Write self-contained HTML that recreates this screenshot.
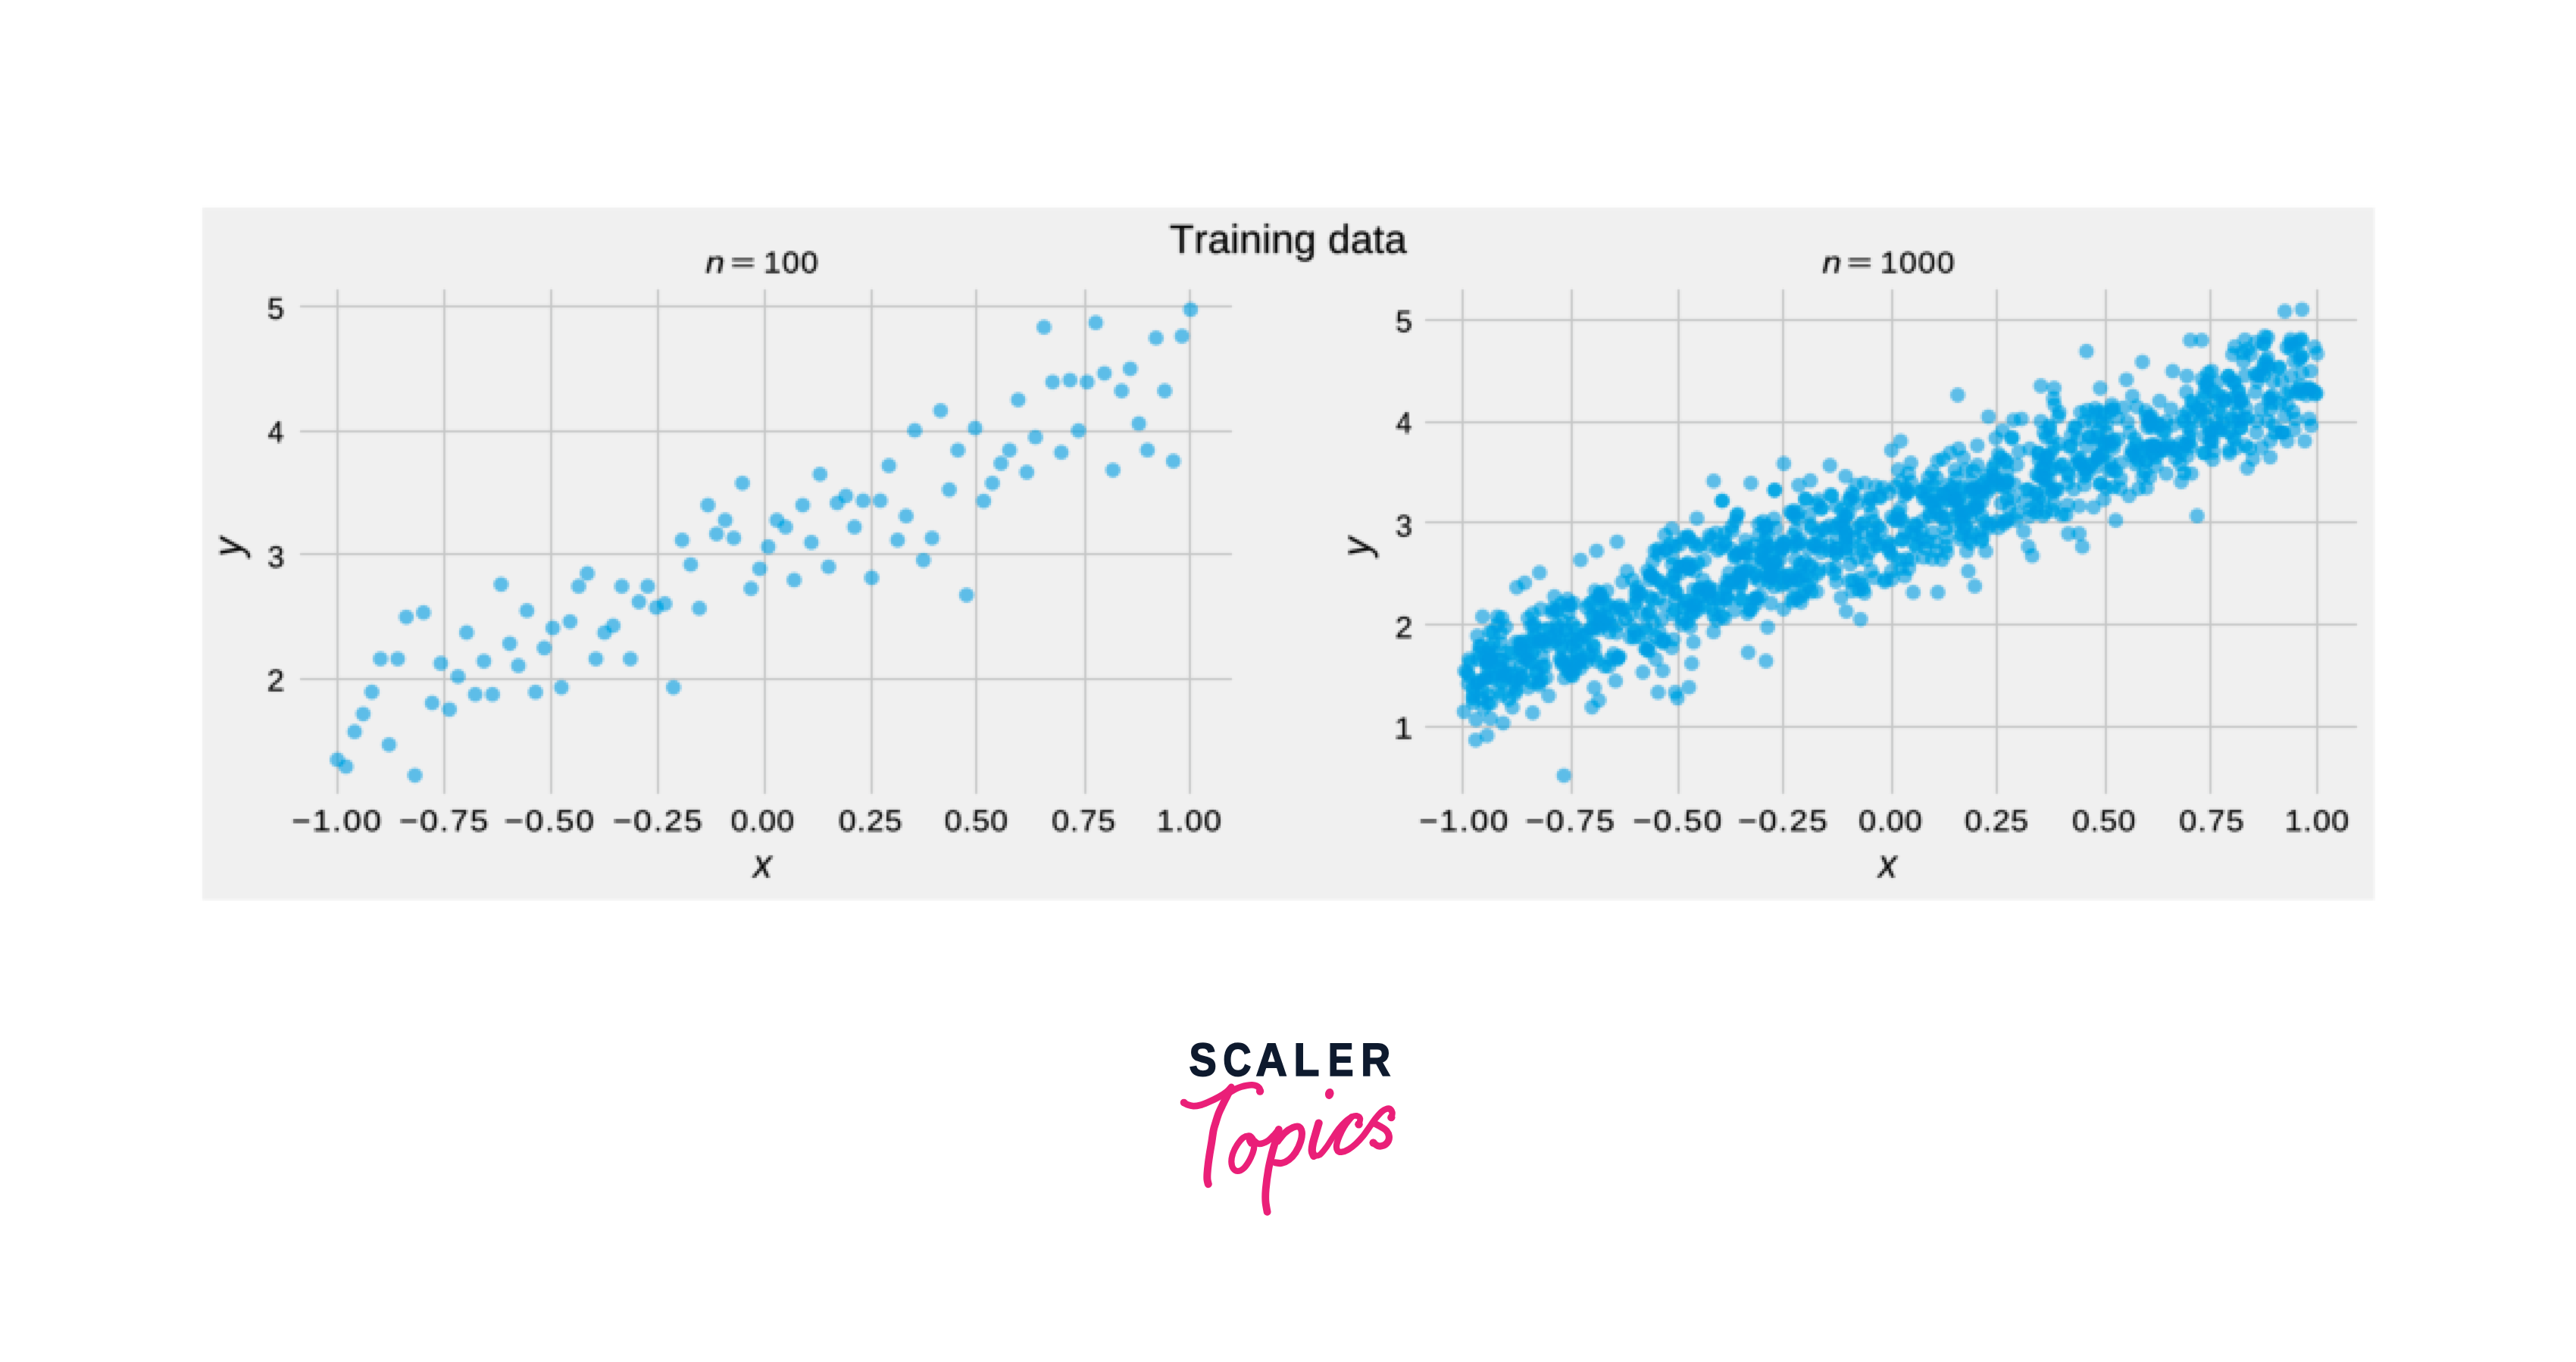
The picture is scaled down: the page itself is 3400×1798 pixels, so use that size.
<!DOCTYPE html><html><head><meta charset="utf-8"><title>Training data</title><style>html,body{margin:0;padding:0;background:#fff}body{width:3400px;height:1798px;position:relative;overflow:hidden;font-family:"Liberation Sans",sans-serif}svg text{font-kerning:none;text-rendering:geometricPrecision}</style></head><body><svg width="3400" height="1798" viewBox="0 0 3400 1798" style="position:absolute;left:0;top:0;display:block">
<defs><filter id="plot" filterUnits="userSpaceOnUse" x="264" y="271" width="2874" height="921" color-interpolation-filters="sRGB"><feComponentTransfer><feFuncR type="table" tableValues="0.0000 0.0078 0.0235 0.0549 0.1255 0.2275 0.3373 0.4118 0.4706 0.5294 0.5882 0.6471 0.7059 0.7647 0.8235 0.8824 0.9412 1.0000"/></feComponentTransfer></filter><filter id="lowres" filterUnits="userSpaceOnUse" x="264" y="271" width="2874" height="921" color-interpolation-filters="sRGB"><feGaussianBlur in="SourceGraphic" stdDeviation="0.9" result="avg"/><feFlood x="265" y="272" width="1" height="1" flood-color="#000"/><feComposite x="264" y="271" width="3" height="3"/><feTile result="grid"/><feComposite in="avg" in2="grid" operator="in"/><feMorphology operator="dilate" radius="1"/><feConvolveMatrix order="3" kernelMatrix="1 6 1 6 36 6 1 6 1" divisor="64" edgeMode="duplicate"/></filter></defs>
<rect x="0" y="0" width="3400" height="1798" fill="#ffffff"/>
<g id="chart" filter="url(#lowres)"><title>Training data scatter plots of y versus x for n = 100 and n = 1000</title>
<g id="plot" filter="url(#plot)">
<rect x="267" y="274" width="2866.8" height="914.0" fill="#f0f0f0"/>
<g stroke="#c6c6c6" stroke-width="3" fill="none"><line x1="445.5" y1="382" x2="445.5" y2="1048"/><line x1="586.5" y1="382" x2="586.5" y2="1048"/><line x1="727.5" y1="382" x2="727.5" y2="1048"/><line x1="868.5" y1="382" x2="868.5" y2="1048"/><line x1="1009.5" y1="382" x2="1009.5" y2="1048"/><line x1="1150.5" y1="382" x2="1150.5" y2="1048"/><line x1="1288.5" y1="382" x2="1288.5" y2="1048"/><line x1="1432.5" y1="382" x2="1432.5" y2="1048"/><line x1="1570.5" y1="382" x2="1570.5" y2="1048"/><line x1="396" y1="404.5" x2="1626" y2="404.5"/><line x1="396" y1="569.5" x2="1626" y2="569.5"/><line x1="396" y1="731.5" x2="1626" y2="731.5"/><line x1="396" y1="896.5" x2="1626" y2="896.5"/></g>
<g stroke="#c6c6c6" stroke-width="3" fill="none"><line x1="1930.5" y1="382" x2="1930.5" y2="1048"/><line x1="2074.5" y1="382" x2="2074.5" y2="1048"/><line x1="2215.5" y1="382" x2="2215.5" y2="1048"/><line x1="2353.5" y1="382" x2="2353.5" y2="1048"/><line x1="2497.5" y1="382" x2="2497.5" y2="1048"/><line x1="2635.5" y1="382" x2="2635.5" y2="1048"/><line x1="2779.5" y1="382" x2="2779.5" y2="1048"/><line x1="2917.5" y1="382" x2="2917.5" y2="1048"/><line x1="3058.5" y1="382" x2="3058.5" y2="1048"/><line x1="1881" y1="422.5" x2="3111" y2="422.5"/><line x1="1881" y1="557.5" x2="3111" y2="557.5"/><line x1="1881" y1="689.5" x2="3111" y2="689.5"/><line x1="1881" y1="824.5" x2="3111" y2="824.5"/><line x1="1881" y1="959.5" x2="3111" y2="959.5"/></g>
<g fill="#009be2" fill-opacity="0.600">
<circle cx="445.3" cy="1002.9" r="9.9"/>
<circle cx="456.7" cy="1011.9" r="9.9"/>
<circle cx="468.1" cy="965.9" r="9.9"/>
<circle cx="479.4" cy="942.6" r="9.9"/>
<circle cx="490.8" cy="913.5" r="9.9"/>
<circle cx="502.2" cy="869.8" r="9.9"/>
<circle cx="513.5" cy="983.1" r="9.9"/>
<circle cx="524.9" cy="869.8" r="9.9"/>
<circle cx="536.3" cy="814.6" r="9.9"/>
<circle cx="547.7" cy="1023.6" r="9.9"/>
<circle cx="559.0" cy="808.7" r="9.9"/>
<circle cx="570.4" cy="927.9" r="9.9"/>
<circle cx="581.8" cy="875.7" r="9.9"/>
<circle cx="593.2" cy="936.6" r="9.9"/>
<circle cx="604.5" cy="893.1" r="9.9"/>
<circle cx="615.9" cy="835.0" r="9.9"/>
<circle cx="627.3" cy="916.7" r="9.9"/>
<circle cx="638.7" cy="872.8" r="9.9"/>
<circle cx="650.0" cy="916.7" r="9.9"/>
<circle cx="661.4" cy="771.4" r="9.9"/>
<circle cx="672.8" cy="849.6" r="9.9"/>
<circle cx="684.2" cy="878.7" r="9.9"/>
<circle cx="695.5" cy="806.2" r="9.9"/>
<circle cx="706.9" cy="913.7" r="9.9"/>
<circle cx="718.3" cy="855.4" r="9.9"/>
<circle cx="729.7" cy="829.0" r="9.9"/>
<circle cx="741.0" cy="907.5" r="9.9"/>
<circle cx="752.4" cy="820.6" r="9.9"/>
<circle cx="763.8" cy="773.9" r="9.9"/>
<circle cx="775.2" cy="757.0" r="9.9"/>
<circle cx="786.5" cy="869.8" r="9.9"/>
<circle cx="797.9" cy="835.2" r="9.9"/>
<circle cx="809.3" cy="826.0" r="9.9"/>
<circle cx="820.7" cy="773.9" r="9.9"/>
<circle cx="832.0" cy="869.8" r="9.9"/>
<circle cx="843.4" cy="794.5" r="9.9"/>
<circle cx="854.8" cy="773.9" r="9.9"/>
<circle cx="866.2" cy="802.0" r="9.9"/>
<circle cx="877.5" cy="797.0" r="9.9"/>
<circle cx="888.9" cy="907.5" r="9.9"/>
<circle cx="900.3" cy="713.0" r="9.9"/>
<circle cx="911.7" cy="745.3" r="9.9"/>
<circle cx="923.0" cy="803.0" r="9.9"/>
<circle cx="934.4" cy="666.8" r="9.9"/>
<circle cx="945.8" cy="704.8" r="9.9"/>
<circle cx="957.2" cy="686.7" r="9.9"/>
<circle cx="968.5" cy="710.3" r="9.9"/>
<circle cx="979.9" cy="637.8" r="9.9"/>
<circle cx="991.3" cy="776.9" r="9.9"/>
<circle cx="1002.7" cy="750.8" r="9.9"/>
<circle cx="1014.0" cy="721.7" r="9.9"/>
<circle cx="1025.4" cy="686.7" r="9.9"/>
<circle cx="1036.8" cy="695.7" r="9.9"/>
<circle cx="1048.2" cy="765.7" r="9.9"/>
<circle cx="1059.5" cy="666.8" r="9.9"/>
<circle cx="1070.9" cy="716.0" r="9.9"/>
<circle cx="1082.3" cy="626.1" r="9.9"/>
<circle cx="1093.7" cy="748.3" r="9.9"/>
<circle cx="1105.0" cy="663.9" r="9.9"/>
<circle cx="1116.4" cy="654.7" r="9.9"/>
<circle cx="1127.8" cy="695.7" r="9.9"/>
<circle cx="1139.2" cy="660.9" r="9.9"/>
<circle cx="1150.5" cy="762.7" r="9.9"/>
<circle cx="1161.9" cy="660.9" r="9.9"/>
<circle cx="1173.3" cy="614.7" r="9.9"/>
<circle cx="1184.7" cy="713.0" r="9.9"/>
<circle cx="1196.0" cy="681.2" r="9.9"/>
<circle cx="1207.4" cy="568.2" r="9.9"/>
<circle cx="1218.8" cy="739.6" r="9.9"/>
<circle cx="1230.2" cy="710.3" r="9.9"/>
<circle cx="1241.5" cy="542.1" r="9.9"/>
<circle cx="1252.9" cy="646.5" r="9.9"/>
<circle cx="1264.3" cy="594.3" r="9.9"/>
<circle cx="1275.7" cy="785.6" r="9.9"/>
<circle cx="1287.0" cy="565.2" r="9.9"/>
<circle cx="1298.4" cy="661.4" r="9.9"/>
<circle cx="1309.8" cy="637.8" r="9.9"/>
<circle cx="1321.2" cy="611.7" r="9.9"/>
<circle cx="1332.5" cy="594.3" r="9.9"/>
<circle cx="1343.9" cy="527.8" r="9.9"/>
<circle cx="1355.3" cy="623.4" r="9.9"/>
<circle cx="1366.7" cy="577.2" r="9.9"/>
<circle cx="1378.0" cy="431.9" r="9.9"/>
<circle cx="1389.4" cy="504.3" r="9.9"/>
<circle cx="1400.8" cy="597.2" r="9.9"/>
<circle cx="1412.2" cy="501.8" r="9.9"/>
<circle cx="1423.5" cy="568.5" r="9.9"/>
<circle cx="1434.9" cy="504.3" r="9.9"/>
<circle cx="1446.3" cy="425.9" r="9.9"/>
<circle cx="1457.7" cy="492.8" r="9.9"/>
<circle cx="1469.0" cy="620.6" r="9.9"/>
<circle cx="1480.4" cy="516.0" r="9.9"/>
<circle cx="1491.8" cy="486.8" r="9.9"/>
<circle cx="1503.2" cy="559.2" r="9.9"/>
<circle cx="1514.5" cy="594.2" r="9.9"/>
<circle cx="1525.9" cy="446.2" r="9.9"/>
<circle cx="1537.3" cy="516.0" r="9.9"/>
<circle cx="1548.7" cy="608.7" r="9.9"/>
<circle cx="1560.0" cy="443.7" r="9.9"/>
<circle cx="1571.4" cy="408.7" r="9.9"/>
</g>
<g fill="#009be2" fill-opacity="0.600">
<circle cx="1932.4" cy="939.4" r="9.9"/>
<circle cx="1933.4" cy="885.8" r="9.9"/>
<circle cx="1936.9" cy="887.9" r="9.9"/>
<circle cx="1937.9" cy="902.6" r="9.9"/>
<circle cx="1938.5" cy="891.5" r="9.9"/>
<circle cx="1938.8" cy="870.2" r="9.9"/>
<circle cx="1940.4" cy="874.8" r="9.9"/>
<circle cx="1943.8" cy="922.1" r="9.9"/>
<circle cx="1943.9" cy="908.8" r="9.9"/>
<circle cx="1944.2" cy="917.8" r="9.9"/>
<circle cx="1944.7" cy="927.4" r="9.9"/>
<circle cx="1948.3" cy="950.0" r="9.9"/>
<circle cx="1948.7" cy="903.1" r="9.9"/>
<circle cx="1950.0" cy="839.4" r="9.9"/>
<circle cx="1951.2" cy="898.9" r="9.9"/>
<circle cx="1951.3" cy="870.5" r="9.9"/>
<circle cx="1951.9" cy="861.4" r="9.9"/>
<circle cx="1952.1" cy="901.5" r="9.9"/>
<circle cx="1952.5" cy="853.3" r="9.9"/>
<circle cx="1954.9" cy="852.5" r="9.9"/>
<circle cx="1955.1" cy="921.6" r="9.9"/>
<circle cx="1957.5" cy="912.1" r="9.9"/>
<circle cx="1958.0" cy="935.1" r="9.9"/>
<circle cx="1958.7" cy="896.5" r="9.9"/>
<circle cx="1959.5" cy="869.5" r="9.9"/>
<circle cx="1961.4" cy="895.0" r="9.9"/>
<circle cx="1961.8" cy="876.1" r="9.9"/>
<circle cx="1963.4" cy="884.4" r="9.9"/>
<circle cx="1963.4" cy="875.6" r="9.9"/>
<circle cx="1963.6" cy="872.8" r="9.9"/>
<circle cx="1963.7" cy="863.4" r="9.9"/>
<circle cx="1964.0" cy="917.1" r="9.9"/>
<circle cx="1964.1" cy="928.6" r="9.9"/>
<circle cx="1965.8" cy="854.2" r="9.9"/>
<circle cx="1966.2" cy="834.3" r="9.9"/>
<circle cx="1967.5" cy="869.2" r="9.9"/>
<circle cx="1968.2" cy="894.1" r="9.9"/>
<circle cx="1968.3" cy="866.0" r="9.9"/>
<circle cx="1968.3" cy="873.4" r="9.9"/>
<circle cx="1968.3" cy="928.2" r="9.9"/>
<circle cx="1969.4" cy="896.3" r="9.9"/>
<circle cx="1970.4" cy="834.9" r="9.9"/>
<circle cx="1971.0" cy="861.2" r="9.9"/>
<circle cx="1971.4" cy="850.1" r="9.9"/>
<circle cx="1974.6" cy="889.0" r="9.9"/>
<circle cx="1976.2" cy="824.6" r="9.9"/>
<circle cx="1977.8" cy="870.9" r="9.9"/>
<circle cx="1977.9" cy="912.1" r="9.9"/>
<circle cx="1980.3" cy="879.9" r="9.9"/>
<circle cx="1980.9" cy="835.2" r="9.9"/>
<circle cx="1981.5" cy="849.1" r="9.9"/>
<circle cx="1981.8" cy="883.9" r="9.9"/>
<circle cx="1982.1" cy="900.7" r="9.9"/>
<circle cx="1982.3" cy="917.4" r="9.9"/>
<circle cx="1982.3" cy="871.0" r="9.9"/>
<circle cx="1982.5" cy="815.7" r="9.9"/>
<circle cx="1984.2" cy="891.3" r="9.9"/>
<circle cx="1986.0" cy="895.8" r="9.9"/>
<circle cx="1986.7" cy="890.8" r="9.9"/>
<circle cx="1987.6" cy="827.5" r="9.9"/>
<circle cx="1988.3" cy="861.0" r="9.9"/>
<circle cx="1988.7" cy="887.9" r="9.9"/>
<circle cx="1991.4" cy="923.3" r="9.9"/>
<circle cx="1992.7" cy="877.3" r="9.9"/>
<circle cx="1994.4" cy="862.7" r="9.9"/>
<circle cx="1995.5" cy="890.1" r="9.9"/>
<circle cx="1996.2" cy="933.8" r="9.9"/>
<circle cx="1997.0" cy="906.3" r="9.9"/>
<circle cx="1999.7" cy="916.1" r="9.9"/>
<circle cx="2000.9" cy="911.3" r="9.9"/>
<circle cx="2000.9" cy="899.8" r="9.9"/>
<circle cx="2001.0" cy="847.4" r="9.9"/>
<circle cx="2001.6" cy="898.9" r="9.9"/>
<circle cx="2005.9" cy="889.6" r="9.9"/>
<circle cx="2006.0" cy="848.7" r="9.9"/>
<circle cx="2006.3" cy="864.4" r="9.9"/>
<circle cx="2006.9" cy="857.7" r="9.9"/>
<circle cx="2007.1" cy="880.5" r="9.9"/>
<circle cx="2007.3" cy="850.2" r="9.9"/>
<circle cx="2007.3" cy="895.0" r="9.9"/>
<circle cx="2008.1" cy="856.5" r="9.9"/>
<circle cx="2010.5" cy="846.5" r="9.9"/>
<circle cx="2010.7" cy="892.6" r="9.9"/>
<circle cx="2011.6" cy="869.5" r="9.9"/>
<circle cx="2014.4" cy="862.6" r="9.9"/>
<circle cx="2015.6" cy="870.6" r="9.9"/>
<circle cx="2016.8" cy="815.8" r="9.9"/>
<circle cx="2017.0" cy="908.1" r="9.9"/>
<circle cx="2019.8" cy="844.5" r="9.9"/>
<circle cx="2019.9" cy="873.8" r="9.9"/>
<circle cx="2020.5" cy="826.5" r="9.9"/>
<circle cx="2020.5" cy="875.6" r="9.9"/>
<circle cx="2020.8" cy="899.8" r="9.9"/>
<circle cx="2022.9" cy="809.9" r="9.9"/>
<circle cx="2022.9" cy="861.8" r="9.9"/>
<circle cx="2023.2" cy="847.8" r="9.9"/>
<circle cx="2024.8" cy="856.1" r="9.9"/>
<circle cx="2025.0" cy="827.6" r="9.9"/>
<circle cx="2025.1" cy="824.0" r="9.9"/>
<circle cx="2025.7" cy="839.8" r="9.9"/>
<circle cx="2028.2" cy="889.0" r="9.9"/>
<circle cx="2028.5" cy="885.0" r="9.9"/>
<circle cx="2030.3" cy="900.9" r="9.9"/>
<circle cx="2031.5" cy="905.1" r="9.9"/>
<circle cx="2031.7" cy="846.7" r="9.9"/>
<circle cx="2033.4" cy="804.0" r="9.9"/>
<circle cx="2033.7" cy="844.3" r="9.9"/>
<circle cx="2034.4" cy="897.7" r="9.9"/>
<circle cx="2035.7" cy="879.5" r="9.9"/>
<circle cx="2035.8" cy="867.2" r="9.9"/>
<circle cx="2035.8" cy="845.4" r="9.9"/>
<circle cx="2037.8" cy="831.2" r="9.9"/>
<circle cx="2038.4" cy="847.8" r="9.9"/>
<circle cx="2039.4" cy="879.0" r="9.9"/>
<circle cx="2041.0" cy="894.6" r="9.9"/>
<circle cx="2042.0" cy="852.6" r="9.9"/>
<circle cx="2044.3" cy="829.6" r="9.9"/>
<circle cx="2046.1" cy="841.5" r="9.9"/>
<circle cx="2048.6" cy="808.8" r="9.9"/>
<circle cx="2048.7" cy="803.7" r="9.9"/>
<circle cx="2051.8" cy="846.3" r="9.9"/>
<circle cx="2052.6" cy="805.7" r="9.9"/>
<circle cx="2053.2" cy="837.1" r="9.9"/>
<circle cx="2055.1" cy="825.1" r="9.9"/>
<circle cx="2055.2" cy="830.1" r="9.9"/>
<circle cx="2055.4" cy="805.4" r="9.9"/>
<circle cx="2058.2" cy="843.1" r="9.9"/>
<circle cx="2058.9" cy="869.8" r="9.9"/>
<circle cx="2059.6" cy="855.1" r="9.9"/>
<circle cx="2060.8" cy="797.1" r="9.9"/>
<circle cx="2061.1" cy="852.7" r="9.9"/>
<circle cx="2061.2" cy="871.4" r="9.9"/>
<circle cx="2061.5" cy="877.3" r="9.9"/>
<circle cx="2062.8" cy="874.6" r="9.9"/>
<circle cx="2063.5" cy="820.3" r="9.9"/>
<circle cx="2065.0" cy="895.2" r="9.9"/>
<circle cx="2066.6" cy="831.5" r="9.9"/>
<circle cx="2067.8" cy="869.2" r="9.9"/>
<circle cx="2068.8" cy="885.8" r="9.9"/>
<circle cx="2068.9" cy="837.7" r="9.9"/>
<circle cx="2069.0" cy="791.0" r="9.9"/>
<circle cx="2069.1" cy="881.4" r="9.9"/>
<circle cx="2070.0" cy="798.6" r="9.9"/>
<circle cx="2070.7" cy="809.2" r="9.9"/>
<circle cx="2072.1" cy="798.7" r="9.9"/>
<circle cx="2074.0" cy="891.0" r="9.9"/>
<circle cx="2074.5" cy="842.8" r="9.9"/>
<circle cx="2074.6" cy="885.7" r="9.9"/>
<circle cx="2075.2" cy="823.1" r="9.9"/>
<circle cx="2075.4" cy="853.8" r="9.9"/>
<circle cx="2075.5" cy="874.4" r="9.9"/>
<circle cx="2076.1" cy="892.5" r="9.9"/>
<circle cx="2076.3" cy="851.3" r="9.9"/>
<circle cx="2077.5" cy="796.5" r="9.9"/>
<circle cx="2078.5" cy="884.5" r="9.9"/>
<circle cx="2080.7" cy="876.5" r="9.9"/>
<circle cx="2081.0" cy="829.2" r="9.9"/>
<circle cx="2081.4" cy="859.5" r="9.9"/>
<circle cx="2082.4" cy="845.9" r="9.9"/>
<circle cx="2082.8" cy="871.0" r="9.9"/>
<circle cx="2086.1" cy="882.2" r="9.9"/>
<circle cx="2086.5" cy="869.7" r="9.9"/>
<circle cx="2086.6" cy="838.0" r="9.9"/>
<circle cx="2086.7" cy="873.1" r="9.9"/>
<circle cx="2089.3" cy="840.4" r="9.9"/>
<circle cx="2093.1" cy="838.0" r="9.9"/>
<circle cx="2093.4" cy="856.0" r="9.9"/>
<circle cx="2093.5" cy="873.9" r="9.9"/>
<circle cx="2094.2" cy="802.3" r="9.9"/>
<circle cx="2097.7" cy="865.4" r="9.9"/>
<circle cx="2097.9" cy="796.8" r="9.9"/>
<circle cx="2099.6" cy="828.9" r="9.9"/>
<circle cx="2100.0" cy="829.7" r="9.9"/>
<circle cx="2101.1" cy="812.3" r="9.9"/>
<circle cx="2102.0" cy="794.4" r="9.9"/>
<circle cx="2102.0" cy="850.7" r="9.9"/>
<circle cx="2103.3" cy="830.8" r="9.9"/>
<circle cx="2104.0" cy="814.2" r="9.9"/>
<circle cx="2104.3" cy="854.0" r="9.9"/>
<circle cx="2105.8" cy="865.8" r="9.9"/>
<circle cx="2107.4" cy="872.7" r="9.9"/>
<circle cx="2110.3" cy="790.2" r="9.9"/>
<circle cx="2110.5" cy="830.5" r="9.9"/>
<circle cx="2110.5" cy="813.2" r="9.9"/>
<circle cx="2110.9" cy="786.3" r="9.9"/>
<circle cx="2111.0" cy="824.4" r="9.9"/>
<circle cx="2111.3" cy="786.4" r="9.9"/>
<circle cx="2111.3" cy="824.2" r="9.9"/>
<circle cx="2111.3" cy="818.0" r="9.9"/>
<circle cx="2111.4" cy="809.5" r="9.9"/>
<circle cx="2111.8" cy="782.7" r="9.9"/>
<circle cx="2114.7" cy="819.1" r="9.9"/>
<circle cx="2114.8" cy="789.3" r="9.9"/>
<circle cx="2115.0" cy="820.7" r="9.9"/>
<circle cx="2116.2" cy="824.4" r="9.9"/>
<circle cx="2117.3" cy="879.4" r="9.9"/>
<circle cx="2118.4" cy="823.8" r="9.9"/>
<circle cx="2119.8" cy="799.0" r="9.9"/>
<circle cx="2120.8" cy="814.7" r="9.9"/>
<circle cx="2121.0" cy="779.8" r="9.9"/>
<circle cx="2122.8" cy="817.1" r="9.9"/>
<circle cx="2123.3" cy="879.9" r="9.9"/>
<circle cx="2123.8" cy="798.7" r="9.9"/>
<circle cx="2124.3" cy="834.6" r="9.9"/>
<circle cx="2125.7" cy="824.5" r="9.9"/>
<circle cx="2125.9" cy="869.8" r="9.9"/>
<circle cx="2129.7" cy="863.2" r="9.9"/>
<circle cx="2133.0" cy="803.0" r="9.9"/>
<circle cx="2134.0" cy="835.6" r="9.9"/>
<circle cx="2134.8" cy="870.5" r="9.9"/>
<circle cx="2135.0" cy="824.4" r="9.9"/>
<circle cx="2136.4" cy="868.2" r="9.9"/>
<circle cx="2137.2" cy="866.6" r="9.9"/>
<circle cx="2137.7" cy="799.4" r="9.9"/>
<circle cx="2138.8" cy="805.6" r="9.9"/>
<circle cx="2141.3" cy="768.1" r="9.9"/>
<circle cx="2142.7" cy="804.2" r="9.9"/>
<circle cx="2145.6" cy="816.8" r="9.9"/>
<circle cx="2147.4" cy="754.0" r="9.9"/>
<circle cx="2151.6" cy="841.5" r="9.9"/>
<circle cx="2151.8" cy="810.7" r="9.9"/>
<circle cx="2153.7" cy="827.5" r="9.9"/>
<circle cx="2155.1" cy="765.5" r="9.9"/>
<circle cx="2157.1" cy="841.9" r="9.9"/>
<circle cx="2157.3" cy="833.5" r="9.9"/>
<circle cx="2157.6" cy="797.2" r="9.9"/>
<circle cx="2159.2" cy="780.7" r="9.9"/>
<circle cx="2159.4" cy="787.8" r="9.9"/>
<circle cx="2160.4" cy="794.3" r="9.9"/>
<circle cx="2160.6" cy="775.5" r="9.9"/>
<circle cx="2161.8" cy="839.8" r="9.9"/>
<circle cx="2164.6" cy="782.2" r="9.9"/>
<circle cx="2165.0" cy="783.3" r="9.9"/>
<circle cx="2167.5" cy="810.5" r="9.9"/>
<circle cx="2171.4" cy="856.2" r="9.9"/>
<circle cx="2171.7" cy="828.3" r="9.9"/>
<circle cx="2172.1" cy="833.8" r="9.9"/>
<circle cx="2173.7" cy="858.1" r="9.9"/>
<circle cx="2174.4" cy="753.5" r="9.9"/>
<circle cx="2175.4" cy="810.2" r="9.9"/>
<circle cx="2176.1" cy="859.4" r="9.9"/>
<circle cx="2176.1" cy="851.8" r="9.9"/>
<circle cx="2177.0" cy="765.5" r="9.9"/>
<circle cx="2177.1" cy="788.0" r="9.9"/>
<circle cx="2177.7" cy="806.8" r="9.9"/>
<circle cx="2177.9" cy="758.5" r="9.9"/>
<circle cx="2178.7" cy="759.7" r="9.9"/>
<circle cx="2179.9" cy="758.3" r="9.9"/>
<circle cx="2180.9" cy="791.5" r="9.9"/>
<circle cx="2181.8" cy="741.2" r="9.9"/>
<circle cx="2182.4" cy="821.5" r="9.9"/>
<circle cx="2183.1" cy="762.7" r="9.9"/>
<circle cx="2183.8" cy="727.1" r="9.9"/>
<circle cx="2186.3" cy="841.0" r="9.9"/>
<circle cx="2188.7" cy="790.2" r="9.9"/>
<circle cx="2188.8" cy="724.5" r="9.9"/>
<circle cx="2189.0" cy="731.8" r="9.9"/>
<circle cx="2189.9" cy="766.4" r="9.9"/>
<circle cx="2190.6" cy="834.9" r="9.9"/>
<circle cx="2192.5" cy="770.2" r="9.9"/>
<circle cx="2193.0" cy="817.9" r="9.9"/>
<circle cx="2194.3" cy="848.5" r="9.9"/>
<circle cx="2194.5" cy="846.5" r="9.9"/>
<circle cx="2196.6" cy="845.0" r="9.9"/>
<circle cx="2197.2" cy="799.1" r="9.9"/>
<circle cx="2197.8" cy="775.6" r="9.9"/>
<circle cx="2198.8" cy="726.1" r="9.9"/>
<circle cx="2198.9" cy="724.6" r="9.9"/>
<circle cx="2201.7" cy="778.8" r="9.9"/>
<circle cx="2204.8" cy="718.1" r="9.9"/>
<circle cx="2206.7" cy="735.4" r="9.9"/>
<circle cx="2206.9" cy="745.5" r="9.9"/>
<circle cx="2207.6" cy="810.9" r="9.9"/>
<circle cx="2208.2" cy="761.3" r="9.9"/>
<circle cx="2208.6" cy="768.7" r="9.9"/>
<circle cx="2208.7" cy="844.2" r="9.9"/>
<circle cx="2210.1" cy="758.9" r="9.9"/>
<circle cx="2210.5" cy="805.9" r="9.9"/>
<circle cx="2211.0" cy="720.6" r="9.9"/>
<circle cx="2211.6" cy="791.5" r="9.9"/>
<circle cx="2212.2" cy="780.4" r="9.9"/>
<circle cx="2212.3" cy="783.2" r="9.9"/>
<circle cx="2216.9" cy="748.2" r="9.9"/>
<circle cx="2217.1" cy="719.2" r="9.9"/>
<circle cx="2217.5" cy="756.7" r="9.9"/>
<circle cx="2218.3" cy="747.9" r="9.9"/>
<circle cx="2219.3" cy="824.6" r="9.9"/>
<circle cx="2220.8" cy="817.7" r="9.9"/>
<circle cx="2221.7" cy="709.8" r="9.9"/>
<circle cx="2222.3" cy="803.0" r="9.9"/>
<circle cx="2222.8" cy="746.4" r="9.9"/>
<circle cx="2225.0" cy="793.8" r="9.9"/>
<circle cx="2225.6" cy="745.8" r="9.9"/>
<circle cx="2227.0" cy="821.6" r="9.9"/>
<circle cx="2227.4" cy="792.8" r="9.9"/>
<circle cx="2227.9" cy="707.7" r="9.9"/>
<circle cx="2227.9" cy="742.7" r="9.9"/>
<circle cx="2228.5" cy="709.8" r="9.9"/>
<circle cx="2229.0" cy="751.1" r="9.9"/>
<circle cx="2229.3" cy="800.9" r="9.9"/>
<circle cx="2229.6" cy="751.4" r="9.9"/>
<circle cx="2231.0" cy="827.9" r="9.9"/>
<circle cx="2232.6" cy="746.9" r="9.9"/>
<circle cx="2232.9" cy="811.7" r="9.9"/>
<circle cx="2234.1" cy="799.2" r="9.9"/>
<circle cx="2234.5" cy="807.8" r="9.9"/>
<circle cx="2234.8" cy="715.7" r="9.9"/>
<circle cx="2235.2" cy="778.1" r="9.9"/>
<circle cx="2236.7" cy="754.3" r="9.9"/>
<circle cx="2237.3" cy="796.3" r="9.9"/>
<circle cx="2238.9" cy="722.3" r="9.9"/>
<circle cx="2240.0" cy="806.4" r="9.9"/>
<circle cx="2241.1" cy="743.4" r="9.9"/>
<circle cx="2241.6" cy="779.5" r="9.9"/>
<circle cx="2241.7" cy="799.0" r="9.9"/>
<circle cx="2243.8" cy="776.6" r="9.9"/>
<circle cx="2244.0" cy="719.4" r="9.9"/>
<circle cx="2244.4" cy="786.6" r="9.9"/>
<circle cx="2247.9" cy="765.3" r="9.9"/>
<circle cx="2249.2" cy="800.8" r="9.9"/>
<circle cx="2249.6" cy="739.4" r="9.9"/>
<circle cx="2252.4" cy="776.3" r="9.9"/>
<circle cx="2253.2" cy="783.1" r="9.9"/>
<circle cx="2253.6" cy="782.1" r="9.9"/>
<circle cx="2255.2" cy="719.9" r="9.9"/>
<circle cx="2255.9" cy="707.0" r="9.9"/>
<circle cx="2256.0" cy="775.2" r="9.9"/>
<circle cx="2256.1" cy="781.8" r="9.9"/>
<circle cx="2256.4" cy="786.6" r="9.9"/>
<circle cx="2258.8" cy="710.8" r="9.9"/>
<circle cx="2258.8" cy="789.7" r="9.9"/>
<circle cx="2260.2" cy="804.1" r="9.9"/>
<circle cx="2261.7" cy="812.3" r="9.9"/>
<circle cx="2263.4" cy="779.2" r="9.9"/>
<circle cx="2264.9" cy="703.4" r="9.9"/>
<circle cx="2266.2" cy="818.7" r="9.9"/>
<circle cx="2267.0" cy="726.8" r="9.9"/>
<circle cx="2268.2" cy="789.7" r="9.9"/>
<circle cx="2269.5" cy="798.6" r="9.9"/>
<circle cx="2271.2" cy="723.5" r="9.9"/>
<circle cx="2272.7" cy="813.0" r="9.9"/>
<circle cx="2276.1" cy="816.2" r="9.9"/>
<circle cx="2276.4" cy="704.2" r="9.9"/>
<circle cx="2276.4" cy="714.9" r="9.9"/>
<circle cx="2276.8" cy="718.4" r="9.9"/>
<circle cx="2277.1" cy="791.6" r="9.9"/>
<circle cx="2278.3" cy="776.2" r="9.9"/>
<circle cx="2278.8" cy="767.1" r="9.9"/>
<circle cx="2279.2" cy="774.2" r="9.9"/>
<circle cx="2279.4" cy="787.0" r="9.9"/>
<circle cx="2280.5" cy="790.2" r="9.9"/>
<circle cx="2282.3" cy="756.1" r="9.9"/>
<circle cx="2283.9" cy="768.0" r="9.9"/>
<circle cx="2285.4" cy="695.2" r="9.9"/>
<circle cx="2285.7" cy="724.9" r="9.9"/>
<circle cx="2286.7" cy="701.3" r="9.9"/>
<circle cx="2286.7" cy="768.0" r="9.9"/>
<circle cx="2289.0" cy="806.3" r="9.9"/>
<circle cx="2289.2" cy="736.1" r="9.9"/>
<circle cx="2290.6" cy="733.3" r="9.9"/>
<circle cx="2293.1" cy="731.4" r="9.9"/>
<circle cx="2293.3" cy="761.8" r="9.9"/>
<circle cx="2296.0" cy="728.9" r="9.9"/>
<circle cx="2296.7" cy="775.0" r="9.9"/>
<circle cx="2297.2" cy="768.9" r="9.9"/>
<circle cx="2297.4" cy="770.9" r="9.9"/>
<circle cx="2297.6" cy="790.8" r="9.9"/>
<circle cx="2297.6" cy="755.8" r="9.9"/>
<circle cx="2297.7" cy="761.1" r="9.9"/>
<circle cx="2297.8" cy="752.0" r="9.9"/>
<circle cx="2299.7" cy="791.8" r="9.9"/>
<circle cx="2299.9" cy="756.2" r="9.9"/>
<circle cx="2302.0" cy="731.1" r="9.9"/>
<circle cx="2302.0" cy="731.1" r="9.9"/>
<circle cx="2303.7" cy="713.3" r="9.9"/>
<circle cx="2305.5" cy="752.6" r="9.9"/>
<circle cx="2305.7" cy="723.1" r="9.9"/>
<circle cx="2306.6" cy="731.5" r="9.9"/>
<circle cx="2306.6" cy="810.1" r="9.9"/>
<circle cx="2311.1" cy="744.1" r="9.9"/>
<circle cx="2311.5" cy="805.2" r="9.9"/>
<circle cx="2314.0" cy="762.6" r="9.9"/>
<circle cx="2314.8" cy="791.0" r="9.9"/>
<circle cx="2315.5" cy="720.0" r="9.9"/>
<circle cx="2316.0" cy="756.4" r="9.9"/>
<circle cx="2317.7" cy="788.7" r="9.9"/>
<circle cx="2318.0" cy="797.0" r="9.9"/>
<circle cx="2318.4" cy="759.8" r="9.9"/>
<circle cx="2319.2" cy="789.7" r="9.9"/>
<circle cx="2321.1" cy="691.8" r="9.9"/>
<circle cx="2321.2" cy="706.8" r="9.9"/>
<circle cx="2322.6" cy="768.1" r="9.9"/>
<circle cx="2323.8" cy="786.7" r="9.9"/>
<circle cx="2324.8" cy="727.0" r="9.9"/>
<circle cx="2324.8" cy="737.7" r="9.9"/>
<circle cx="2325.4" cy="729.1" r="9.9"/>
<circle cx="2326.5" cy="737.2" r="9.9"/>
<circle cx="2327.0" cy="688.1" r="9.9"/>
<circle cx="2328.3" cy="741.8" r="9.9"/>
<circle cx="2329.1" cy="698.1" r="9.9"/>
<circle cx="2329.7" cy="713.3" r="9.9"/>
<circle cx="2331.0" cy="693.9" r="9.9"/>
<circle cx="2331.1" cy="756.4" r="9.9"/>
<circle cx="2331.3" cy="723.1" r="9.9"/>
<circle cx="2331.4" cy="740.7" r="9.9"/>
<circle cx="2332.1" cy="695.4" r="9.9"/>
<circle cx="2332.7" cy="708.2" r="9.9"/>
<circle cx="2334.2" cy="768.6" r="9.9"/>
<circle cx="2334.2" cy="761.3" r="9.9"/>
<circle cx="2334.4" cy="721.0" r="9.9"/>
<circle cx="2336.1" cy="760.8" r="9.9"/>
<circle cx="2336.6" cy="752.0" r="9.9"/>
<circle cx="2338.1" cy="750.2" r="9.9"/>
<circle cx="2338.3" cy="722.9" r="9.9"/>
<circle cx="2338.5" cy="762.6" r="9.9"/>
<circle cx="2339.0" cy="762.6" r="9.9"/>
<circle cx="2339.9" cy="730.4" r="9.9"/>
<circle cx="2341.4" cy="684.7" r="9.9"/>
<circle cx="2341.7" cy="774.9" r="9.9"/>
<circle cx="2342.0" cy="753.9" r="9.9"/>
<circle cx="2343.0" cy="743.2" r="9.9"/>
<circle cx="2343.1" cy="741.9" r="9.9"/>
<circle cx="2343.3" cy="741.7" r="9.9"/>
<circle cx="2343.7" cy="696.9" r="9.9"/>
<circle cx="2347.4" cy="753.7" r="9.9"/>
<circle cx="2350.0" cy="737.4" r="9.9"/>
<circle cx="2351.1" cy="721.0" r="9.9"/>
<circle cx="2351.4" cy="773.1" r="9.9"/>
<circle cx="2352.2" cy="725.2" r="9.9"/>
<circle cx="2352.3" cy="714.3" r="9.9"/>
<circle cx="2352.8" cy="762.7" r="9.9"/>
<circle cx="2352.8" cy="724.4" r="9.9"/>
<circle cx="2353.9" cy="717.2" r="9.9"/>
<circle cx="2354.7" cy="717.7" r="9.9"/>
<circle cx="2355.7" cy="769.2" r="9.9"/>
<circle cx="2359.1" cy="759.3" r="9.9"/>
<circle cx="2362.8" cy="675.6" r="9.9"/>
<circle cx="2363.2" cy="765.0" r="9.9"/>
<circle cx="2365.3" cy="757.4" r="9.9"/>
<circle cx="2365.3" cy="678.2" r="9.9"/>
<circle cx="2365.3" cy="794.1" r="9.9"/>
<circle cx="2365.5" cy="773.2" r="9.9"/>
<circle cx="2365.7" cy="721.3" r="9.9"/>
<circle cx="2365.8" cy="789.6" r="9.9"/>
<circle cx="2366.6" cy="707.1" r="9.9"/>
<circle cx="2368.2" cy="674.0" r="9.9"/>
<circle cx="2368.3" cy="681.4" r="9.9"/>
<circle cx="2369.9" cy="699.9" r="9.9"/>
<circle cx="2370.1" cy="738.5" r="9.9"/>
<circle cx="2371.0" cy="720.3" r="9.9"/>
<circle cx="2371.2" cy="714.8" r="9.9"/>
<circle cx="2371.6" cy="764.7" r="9.9"/>
<circle cx="2372.6" cy="765.7" r="9.9"/>
<circle cx="2372.9" cy="685.0" r="9.9"/>
<circle cx="2373.7" cy="676.5" r="9.9"/>
<circle cx="2374.9" cy="716.5" r="9.9"/>
<circle cx="2375.4" cy="752.9" r="9.9"/>
<circle cx="2376.4" cy="712.5" r="9.9"/>
<circle cx="2376.5" cy="744.3" r="9.9"/>
<circle cx="2377.1" cy="795.3" r="9.9"/>
<circle cx="2377.8" cy="760.9" r="9.9"/>
<circle cx="2379.4" cy="785.9" r="9.9"/>
<circle cx="2381.3" cy="781.0" r="9.9"/>
<circle cx="2381.9" cy="741.5" r="9.9"/>
<circle cx="2383.3" cy="759.9" r="9.9"/>
<circle cx="2387.0" cy="773.5" r="9.9"/>
<circle cx="2387.5" cy="725.3" r="9.9"/>
<circle cx="2388.4" cy="679.5" r="9.9"/>
<circle cx="2388.7" cy="748.1" r="9.9"/>
<circle cx="2389.9" cy="693.1" r="9.9"/>
<circle cx="2390.1" cy="745.3" r="9.9"/>
<circle cx="2390.3" cy="781.4" r="9.9"/>
<circle cx="2390.4" cy="697.3" r="9.9"/>
<circle cx="2391.1" cy="764.9" r="9.9"/>
<circle cx="2392.8" cy="718.9" r="9.9"/>
<circle cx="2393.8" cy="719.1" r="9.9"/>
<circle cx="2396.1" cy="720.7" r="9.9"/>
<circle cx="2398.0" cy="781.0" r="9.9"/>
<circle cx="2398.5" cy="665.8" r="9.9"/>
<circle cx="2398.7" cy="704.6" r="9.9"/>
<circle cx="2399.5" cy="757.5" r="9.9"/>
<circle cx="2400.4" cy="660.0" r="9.9"/>
<circle cx="2401.4" cy="752.2" r="9.9"/>
<circle cx="2402.1" cy="722.6" r="9.9"/>
<circle cx="2402.5" cy="714.8" r="9.9"/>
<circle cx="2403.4" cy="729.6" r="9.9"/>
<circle cx="2403.6" cy="671.7" r="9.9"/>
<circle cx="2404.7" cy="670.7" r="9.9"/>
<circle cx="2406.4" cy="698.7" r="9.9"/>
<circle cx="2408.8" cy="698.9" r="9.9"/>
<circle cx="2414.1" cy="720.1" r="9.9"/>
<circle cx="2414.5" cy="750.2" r="9.9"/>
<circle cx="2414.6" cy="693.5" r="9.9"/>
<circle cx="2415.0" cy="727.4" r="9.9"/>
<circle cx="2416.2" cy="652.8" r="9.9"/>
<circle cx="2422.1" cy="757.5" r="9.9"/>
<circle cx="2422.6" cy="697.0" r="9.9"/>
<circle cx="2422.8" cy="748.7" r="9.9"/>
<circle cx="2423.1" cy="723.8" r="9.9"/>
<circle cx="2423.1" cy="730.4" r="9.9"/>
<circle cx="2423.3" cy="723.6" r="9.9"/>
<circle cx="2423.5" cy="668.3" r="9.9"/>
<circle cx="2423.6" cy="768.0" r="9.9"/>
<circle cx="2423.7" cy="709.1" r="9.9"/>
<circle cx="2423.9" cy="731.4" r="9.9"/>
<circle cx="2425.8" cy="691.2" r="9.9"/>
<circle cx="2429.9" cy="789.0" r="9.9"/>
<circle cx="2431.0" cy="673.0" r="9.9"/>
<circle cx="2431.1" cy="694.4" r="9.9"/>
<circle cx="2431.3" cy="686.6" r="9.9"/>
<circle cx="2433.1" cy="694.4" r="9.9"/>
<circle cx="2436.3" cy="701.8" r="9.9"/>
<circle cx="2436.5" cy="709.6" r="9.9"/>
<circle cx="2436.5" cy="680.0" r="9.9"/>
<circle cx="2436.6" cy="682.9" r="9.9"/>
<circle cx="2436.9" cy="712.6" r="9.9"/>
<circle cx="2437.0" cy="730.4" r="9.9"/>
<circle cx="2437.2" cy="705.7" r="9.9"/>
<circle cx="2437.6" cy="724.0" r="9.9"/>
<circle cx="2437.7" cy="721.7" r="9.9"/>
<circle cx="2440.1" cy="677.8" r="9.9"/>
<circle cx="2440.8" cy="766.9" r="9.9"/>
<circle cx="2440.9" cy="658.1" r="9.9"/>
<circle cx="2441.2" cy="660.6" r="9.9"/>
<circle cx="2442.1" cy="745.0" r="9.9"/>
<circle cx="2444.0" cy="651.0" r="9.9"/>
<circle cx="2444.4" cy="780.3" r="9.9"/>
<circle cx="2448.1" cy="709.6" r="9.9"/>
<circle cx="2449.8" cy="698.3" r="9.9"/>
<circle cx="2449.9" cy="664.8" r="9.9"/>
<circle cx="2451.9" cy="737.2" r="9.9"/>
<circle cx="2453.2" cy="779.0" r="9.9"/>
<circle cx="2454.7" cy="763.3" r="9.9"/>
<circle cx="2455.7" cy="691.7" r="9.9"/>
<circle cx="2456.3" cy="719.0" r="9.9"/>
<circle cx="2457.3" cy="726.1" r="9.9"/>
<circle cx="2457.5" cy="771.1" r="9.9"/>
<circle cx="2458.1" cy="702.9" r="9.9"/>
<circle cx="2459.5" cy="777.3" r="9.9"/>
<circle cx="2460.2" cy="690.0" r="9.9"/>
<circle cx="2463.1" cy="738.9" r="9.9"/>
<circle cx="2466.4" cy="657.4" r="9.9"/>
<circle cx="2466.5" cy="666.4" r="9.9"/>
<circle cx="2467.3" cy="728.8" r="9.9"/>
<circle cx="2469.4" cy="658.8" r="9.9"/>
<circle cx="2470.0" cy="753.3" r="9.9"/>
<circle cx="2470.2" cy="676.9" r="9.9"/>
<circle cx="2471.6" cy="710.0" r="9.9"/>
<circle cx="2472.2" cy="701.3" r="9.9"/>
<circle cx="2473.1" cy="687.9" r="9.9"/>
<circle cx="2473.9" cy="712.3" r="9.9"/>
<circle cx="2473.9" cy="762.6" r="9.9"/>
<circle cx="2475.8" cy="642.0" r="9.9"/>
<circle cx="2476.8" cy="720.7" r="9.9"/>
<circle cx="2479.0" cy="695.0" r="9.9"/>
<circle cx="2480.3" cy="655.6" r="9.9"/>
<circle cx="2480.8" cy="719.1" r="9.9"/>
<circle cx="2481.9" cy="657.1" r="9.9"/>
<circle cx="2482.5" cy="699.5" r="9.9"/>
<circle cx="2487.6" cy="768.3" r="9.9"/>
<circle cx="2490.9" cy="715.0" r="9.9"/>
<circle cx="2492.9" cy="725.2" r="9.9"/>
<circle cx="2493.3" cy="650.6" r="9.9"/>
<circle cx="2494.5" cy="728.9" r="9.9"/>
<circle cx="2494.6" cy="719.7" r="9.9"/>
<circle cx="2496.3" cy="682.2" r="9.9"/>
<circle cx="2497.3" cy="764.6" r="9.9"/>
<circle cx="2497.7" cy="734.2" r="9.9"/>
<circle cx="2499.8" cy="686.7" r="9.9"/>
<circle cx="2501.7" cy="642.1" r="9.9"/>
<circle cx="2504.0" cy="687.5" r="9.9"/>
<circle cx="2505.5" cy="677.7" r="9.9"/>
<circle cx="2506.8" cy="738.8" r="9.9"/>
<circle cx="2508.2" cy="684.5" r="9.9"/>
<circle cx="2508.3" cy="670.7" r="9.9"/>
<circle cx="2508.9" cy="635.4" r="9.9"/>
<circle cx="2509.3" cy="750.2" r="9.9"/>
<circle cx="2509.3" cy="712.3" r="9.9"/>
<circle cx="2510.4" cy="686.4" r="9.9"/>
<circle cx="2510.6" cy="713.4" r="9.9"/>
<circle cx="2513.6" cy="654.8" r="9.9"/>
<circle cx="2514.1" cy="760.7" r="9.9"/>
<circle cx="2514.4" cy="702.6" r="9.9"/>
<circle cx="2516.0" cy="644.9" r="9.9"/>
<circle cx="2516.5" cy="737.6" r="9.9"/>
<circle cx="2516.6" cy="650.8" r="9.9"/>
<circle cx="2518.0" cy="650.4" r="9.9"/>
<circle cx="2518.8" cy="625.0" r="9.9"/>
<circle cx="2519.3" cy="750.6" r="9.9"/>
<circle cx="2522.2" cy="636.4" r="9.9"/>
<circle cx="2523.1" cy="701.8" r="9.9"/>
<circle cx="2523.5" cy="737.8" r="9.9"/>
<circle cx="2526.3" cy="692.2" r="9.9"/>
<circle cx="2526.4" cy="718.6" r="9.9"/>
<circle cx="2527.2" cy="705.7" r="9.9"/>
<circle cx="2529.2" cy="693.5" r="9.9"/>
<circle cx="2529.7" cy="720.9" r="9.9"/>
<circle cx="2535.2" cy="649.6" r="9.9"/>
<circle cx="2536.0" cy="701.6" r="9.9"/>
<circle cx="2536.3" cy="647.8" r="9.9"/>
<circle cx="2537.0" cy="710.9" r="9.9"/>
<circle cx="2537.5" cy="687.2" r="9.9"/>
<circle cx="2538.9" cy="658.5" r="9.9"/>
<circle cx="2538.9" cy="736.2" r="9.9"/>
<circle cx="2540.8" cy="723.2" r="9.9"/>
<circle cx="2542.2" cy="641.8" r="9.9"/>
<circle cx="2542.8" cy="657.8" r="9.9"/>
<circle cx="2544.2" cy="714.4" r="9.9"/>
<circle cx="2545.2" cy="630.5" r="9.9"/>
<circle cx="2547.0" cy="676.5" r="9.9"/>
<circle cx="2547.0" cy="681.5" r="9.9"/>
<circle cx="2547.8" cy="663.3" r="9.9"/>
<circle cx="2550.7" cy="623.1" r="9.9"/>
<circle cx="2550.7" cy="737.7" r="9.9"/>
<circle cx="2551.2" cy="702.8" r="9.9"/>
<circle cx="2552.4" cy="661.3" r="9.9"/>
<circle cx="2552.7" cy="641.0" r="9.9"/>
<circle cx="2553.5" cy="670.9" r="9.9"/>
<circle cx="2554.9" cy="715.7" r="9.9"/>
<circle cx="2555.4" cy="651.0" r="9.9"/>
<circle cx="2555.6" cy="727.9" r="9.9"/>
<circle cx="2555.9" cy="677.4" r="9.9"/>
<circle cx="2556.5" cy="631.1" r="9.9"/>
<circle cx="2557.5" cy="608.3" r="9.9"/>
<circle cx="2557.7" cy="661.5" r="9.9"/>
<circle cx="2562.6" cy="684.3" r="9.9"/>
<circle cx="2563.2" cy="738.9" r="9.9"/>
<circle cx="2564.2" cy="665.6" r="9.9"/>
<circle cx="2564.7" cy="605.9" r="9.9"/>
<circle cx="2564.7" cy="682.3" r="9.9"/>
<circle cx="2565.7" cy="652.0" r="9.9"/>
<circle cx="2566.0" cy="651.9" r="9.9"/>
<circle cx="2567.3" cy="697.9" r="9.9"/>
<circle cx="2568.6" cy="683.7" r="9.9"/>
<circle cx="2569.0" cy="721.3" r="9.9"/>
<circle cx="2569.3" cy="709.1" r="9.9"/>
<circle cx="2569.6" cy="729.2" r="9.9"/>
<circle cx="2572.1" cy="648.2" r="9.9"/>
<circle cx="2572.1" cy="639.9" r="9.9"/>
<circle cx="2572.1" cy="660.3" r="9.9"/>
<circle cx="2573.9" cy="597.7" r="9.9"/>
<circle cx="2574.3" cy="654.6" r="9.9"/>
<circle cx="2577.5" cy="643.5" r="9.9"/>
<circle cx="2579.7" cy="693.8" r="9.9"/>
<circle cx="2580.0" cy="658.6" r="9.9"/>
<circle cx="2580.2" cy="660.9" r="9.9"/>
<circle cx="2580.4" cy="620.3" r="9.9"/>
<circle cx="2581.5" cy="659.8" r="9.9"/>
<circle cx="2581.6" cy="630.7" r="9.9"/>
<circle cx="2582.0" cy="661.6" r="9.9"/>
<circle cx="2583.4" cy="673.3" r="9.9"/>
<circle cx="2583.7" cy="679.1" r="9.9"/>
<circle cx="2585.1" cy="592.4" r="9.9"/>
<circle cx="2585.8" cy="658.5" r="9.9"/>
<circle cx="2587.2" cy="711.7" r="9.9"/>
<circle cx="2587.9" cy="647.2" r="9.9"/>
<circle cx="2588.2" cy="678.4" r="9.9"/>
<circle cx="2588.2" cy="689.1" r="9.9"/>
<circle cx="2588.7" cy="644.0" r="9.9"/>
<circle cx="2589.2" cy="706.0" r="9.9"/>
<circle cx="2589.6" cy="675.3" r="9.9"/>
<circle cx="2591.4" cy="604.2" r="9.9"/>
<circle cx="2592.7" cy="680.8" r="9.9"/>
<circle cx="2593.8" cy="697.8" r="9.9"/>
<circle cx="2593.9" cy="694.7" r="9.9"/>
<circle cx="2594.5" cy="620.7" r="9.9"/>
<circle cx="2597.5" cy="675.4" r="9.9"/>
<circle cx="2598.7" cy="663.3" r="9.9"/>
<circle cx="2599.6" cy="711.3" r="9.9"/>
<circle cx="2601.0" cy="716.5" r="9.9"/>
<circle cx="2601.4" cy="648.6" r="9.9"/>
<circle cx="2601.5" cy="683.9" r="9.9"/>
<circle cx="2602.3" cy="635.4" r="9.9"/>
<circle cx="2603.4" cy="703.6" r="9.9"/>
<circle cx="2603.5" cy="645.0" r="9.9"/>
<circle cx="2604.4" cy="621.4" r="9.9"/>
<circle cx="2605.0" cy="647.7" r="9.9"/>
<circle cx="2606.1" cy="644.8" r="9.9"/>
<circle cx="2606.3" cy="667.6" r="9.9"/>
<circle cx="2606.5" cy="671.8" r="9.9"/>
<circle cx="2609.8" cy="588.1" r="9.9"/>
<circle cx="2609.9" cy="613.9" r="9.9"/>
<circle cx="2610.6" cy="664.5" r="9.9"/>
<circle cx="2610.7" cy="670.6" r="9.9"/>
<circle cx="2611.0" cy="650.6" r="9.9"/>
<circle cx="2614.3" cy="701.0" r="9.9"/>
<circle cx="2614.7" cy="640.8" r="9.9"/>
<circle cx="2615.9" cy="680.7" r="9.9"/>
<circle cx="2616.5" cy="711.0" r="9.9"/>
<circle cx="2616.7" cy="662.2" r="9.9"/>
<circle cx="2617.3" cy="648.6" r="9.9"/>
<circle cx="2619.3" cy="645.4" r="9.9"/>
<circle cx="2619.4" cy="635.3" r="9.9"/>
<circle cx="2620.6" cy="689.1" r="9.9"/>
<circle cx="2621.7" cy="627.5" r="9.9"/>
<circle cx="2623.4" cy="650.1" r="9.9"/>
<circle cx="2623.7" cy="697.7" r="9.9"/>
<circle cx="2627.3" cy="643.7" r="9.9"/>
<circle cx="2627.5" cy="691.9" r="9.9"/>
<circle cx="2630.0" cy="634.3" r="9.9"/>
<circle cx="2630.0" cy="618.0" r="9.9"/>
<circle cx="2630.7" cy="627.2" r="9.9"/>
<circle cx="2632.9" cy="612.1" r="9.9"/>
<circle cx="2633.6" cy="630.8" r="9.9"/>
<circle cx="2634.2" cy="578.6" r="9.9"/>
<circle cx="2635.4" cy="635.1" r="9.9"/>
<circle cx="2635.6" cy="687.7" r="9.9"/>
<circle cx="2637.5" cy="697.2" r="9.9"/>
<circle cx="2637.7" cy="599.2" r="9.9"/>
<circle cx="2639.3" cy="640.7" r="9.9"/>
<circle cx="2641.0" cy="603.8" r="9.9"/>
<circle cx="2641.5" cy="664.5" r="9.9"/>
<circle cx="2643.2" cy="568.6" r="9.9"/>
<circle cx="2644.9" cy="644.2" r="9.9"/>
<circle cx="2645.4" cy="691.8" r="9.9"/>
<circle cx="2646.2" cy="640.8" r="9.9"/>
<circle cx="2646.8" cy="686.6" r="9.9"/>
<circle cx="2647.1" cy="606.8" r="9.9"/>
<circle cx="2648.0" cy="610.2" r="9.9"/>
<circle cx="2648.8" cy="634.6" r="9.9"/>
<circle cx="2649.2" cy="623.7" r="9.9"/>
<circle cx="2649.2" cy="659.1" r="9.9"/>
<circle cx="2649.9" cy="686.5" r="9.9"/>
<circle cx="2649.9" cy="636.6" r="9.9"/>
<circle cx="2652.2" cy="670.5" r="9.9"/>
<circle cx="2655.1" cy="579.0" r="9.9"/>
<circle cx="2656.1" cy="577.3" r="9.9"/>
<circle cx="2657.2" cy="657.1" r="9.9"/>
<circle cx="2658.8" cy="639.2" r="9.9"/>
<circle cx="2660.5" cy="686.7" r="9.9"/>
<circle cx="2662.0" cy="613.6" r="9.9"/>
<circle cx="2662.3" cy="677.3" r="9.9"/>
<circle cx="2664.8" cy="596.1" r="9.9"/>
<circle cx="2671.7" cy="662.3" r="9.9"/>
<circle cx="2674.2" cy="646.9" r="9.9"/>
<circle cx="2677.5" cy="646.0" r="9.9"/>
<circle cx="2678.3" cy="682.1" r="9.9"/>
<circle cx="2679.1" cy="592.5" r="9.9"/>
<circle cx="2679.7" cy="672.2" r="9.9"/>
<circle cx="2687.1" cy="676.3" r="9.9"/>
<circle cx="2687.3" cy="651.5" r="9.9"/>
<circle cx="2687.6" cy="650.3" r="9.9"/>
<circle cx="2687.9" cy="626.1" r="9.9"/>
<circle cx="2688.2" cy="668.1" r="9.9"/>
<circle cx="2690.5" cy="597.3" r="9.9"/>
<circle cx="2690.6" cy="659.0" r="9.9"/>
<circle cx="2690.9" cy="607.3" r="9.9"/>
<circle cx="2691.0" cy="599.0" r="9.9"/>
<circle cx="2691.0" cy="629.2" r="9.9"/>
<circle cx="2694.5" cy="618.0" r="9.9"/>
<circle cx="2695.3" cy="629.1" r="9.9"/>
<circle cx="2696.5" cy="680.8" r="9.9"/>
<circle cx="2696.9" cy="619.4" r="9.9"/>
<circle cx="2697.0" cy="632.3" r="9.9"/>
<circle cx="2697.6" cy="660.1" r="9.9"/>
<circle cx="2697.6" cy="571.0" r="9.9"/>
<circle cx="2698.6" cy="614.9" r="9.9"/>
<circle cx="2699.7" cy="633.6" r="9.9"/>
<circle cx="2700.4" cy="675.9" r="9.9"/>
<circle cx="2700.6" cy="577.5" r="9.9"/>
<circle cx="2700.9" cy="604.8" r="9.9"/>
<circle cx="2701.2" cy="641.9" r="9.9"/>
<circle cx="2701.9" cy="601.6" r="9.9"/>
<circle cx="2702.3" cy="605.3" r="9.9"/>
<circle cx="2704.1" cy="633.0" r="9.9"/>
<circle cx="2705.0" cy="562.2" r="9.9"/>
<circle cx="2705.3" cy="566.2" r="9.9"/>
<circle cx="2705.8" cy="620.1" r="9.9"/>
<circle cx="2707.1" cy="599.0" r="9.9"/>
<circle cx="2707.9" cy="577.2" r="9.9"/>
<circle cx="2708.0" cy="647.6" r="9.9"/>
<circle cx="2709.6" cy="674.1" r="9.9"/>
<circle cx="2710.2" cy="649.6" r="9.9"/>
<circle cx="2710.8" cy="591.1" r="9.9"/>
<circle cx="2710.9" cy="665.3" r="9.9"/>
<circle cx="2711.5" cy="534.6" r="9.9"/>
<circle cx="2712.3" cy="618.9" r="9.9"/>
<circle cx="2712.9" cy="645.5" r="9.9"/>
<circle cx="2716.0" cy="647.1" r="9.9"/>
<circle cx="2716.6" cy="550.1" r="9.9"/>
<circle cx="2718.0" cy="585.7" r="9.9"/>
<circle cx="2718.1" cy="544.5" r="9.9"/>
<circle cx="2719.5" cy="614.7" r="9.9"/>
<circle cx="2721.3" cy="679.9" r="9.9"/>
<circle cx="2722.5" cy="613.0" r="9.9"/>
<circle cx="2727.3" cy="679.4" r="9.9"/>
<circle cx="2728.7" cy="624.4" r="9.9"/>
<circle cx="2728.7" cy="638.0" r="9.9"/>
<circle cx="2729.3" cy="666.5" r="9.9"/>
<circle cx="2731.0" cy="589.9" r="9.9"/>
<circle cx="2731.1" cy="627.4" r="9.9"/>
<circle cx="2733.6" cy="588.6" r="9.9"/>
<circle cx="2733.8" cy="574.6" r="9.9"/>
<circle cx="2737.0" cy="646.0" r="9.9"/>
<circle cx="2737.6" cy="563.5" r="9.9"/>
<circle cx="2739.6" cy="613.2" r="9.9"/>
<circle cx="2740.3" cy="564.5" r="9.9"/>
<circle cx="2741.2" cy="603.3" r="9.9"/>
<circle cx="2742.1" cy="578.7" r="9.9"/>
<circle cx="2744.3" cy="668.1" r="9.9"/>
<circle cx="2744.6" cy="611.7" r="9.9"/>
<circle cx="2746.1" cy="611.1" r="9.9"/>
<circle cx="2746.2" cy="544.5" r="9.9"/>
<circle cx="2746.3" cy="605.5" r="9.9"/>
<circle cx="2750.9" cy="629.0" r="9.9"/>
<circle cx="2751.1" cy="640.2" r="9.9"/>
<circle cx="2751.4" cy="619.3" r="9.9"/>
<circle cx="2751.6" cy="556.1" r="9.9"/>
<circle cx="2752.6" cy="620.7" r="9.9"/>
<circle cx="2754.5" cy="589.0" r="9.9"/>
<circle cx="2754.9" cy="541.4" r="9.9"/>
<circle cx="2755.1" cy="626.2" r="9.9"/>
<circle cx="2757.2" cy="575.5" r="9.9"/>
<circle cx="2758.5" cy="577.4" r="9.9"/>
<circle cx="2759.3" cy="613.3" r="9.9"/>
<circle cx="2760.2" cy="613.6" r="9.9"/>
<circle cx="2761.4" cy="556.3" r="9.9"/>
<circle cx="2763.3" cy="669.6" r="9.9"/>
<circle cx="2765.3" cy="545.6" r="9.9"/>
<circle cx="2765.4" cy="539.2" r="9.9"/>
<circle cx="2766.4" cy="616.9" r="9.9"/>
<circle cx="2767.6" cy="606.7" r="9.9"/>
<circle cx="2768.2" cy="603.4" r="9.9"/>
<circle cx="2768.2" cy="577.0" r="9.9"/>
<circle cx="2768.7" cy="601.7" r="9.9"/>
<circle cx="2769.6" cy="568.4" r="9.9"/>
<circle cx="2771.4" cy="638.8" r="9.9"/>
<circle cx="2772.8" cy="543.2" r="9.9"/>
<circle cx="2772.9" cy="585.8" r="9.9"/>
<circle cx="2773.0" cy="638.1" r="9.9"/>
<circle cx="2773.5" cy="599.5" r="9.9"/>
<circle cx="2773.7" cy="557.3" r="9.9"/>
<circle cx="2776.0" cy="602.3" r="9.9"/>
<circle cx="2776.8" cy="583.8" r="9.9"/>
<circle cx="2776.8" cy="659.3" r="9.9"/>
<circle cx="2777.3" cy="547.0" r="9.9"/>
<circle cx="2779.0" cy="585.9" r="9.9"/>
<circle cx="2779.9" cy="644.3" r="9.9"/>
<circle cx="2780.1" cy="559.9" r="9.9"/>
<circle cx="2781.1" cy="571.4" r="9.9"/>
<circle cx="2783.7" cy="621.7" r="9.9"/>
<circle cx="2784.7" cy="583.7" r="9.9"/>
<circle cx="2784.9" cy="610.3" r="9.9"/>
<circle cx="2786.4" cy="542.5" r="9.9"/>
<circle cx="2786.4" cy="587.6" r="9.9"/>
<circle cx="2787.5" cy="534.1" r="9.9"/>
<circle cx="2787.9" cy="618.4" r="9.9"/>
<circle cx="2788.9" cy="643.3" r="9.9"/>
<circle cx="2789.2" cy="540.1" r="9.9"/>
<circle cx="2789.9" cy="591.3" r="9.9"/>
<circle cx="2790.1" cy="581.5" r="9.9"/>
<circle cx="2792.2" cy="622.0" r="9.9"/>
<circle cx="2794.3" cy="551.8" r="9.9"/>
<circle cx="2795.8" cy="579.8" r="9.9"/>
<circle cx="2798.6" cy="644.8" r="9.9"/>
<circle cx="2799.1" cy="631.8" r="9.9"/>
<circle cx="2799.2" cy="611.5" r="9.9"/>
<circle cx="2802.8" cy="538.5" r="9.9"/>
<circle cx="2808.3" cy="557.2" r="9.9"/>
<circle cx="2810.0" cy="654.4" r="9.9"/>
<circle cx="2811.1" cy="570.9" r="9.9"/>
<circle cx="2812.5" cy="600.7" r="9.9"/>
<circle cx="2813.4" cy="593.4" r="9.9"/>
<circle cx="2814.6" cy="522.8" r="9.9"/>
<circle cx="2815.6" cy="597.3" r="9.9"/>
<circle cx="2818.2" cy="579.1" r="9.9"/>
<circle cx="2818.4" cy="602.5" r="9.9"/>
<circle cx="2818.6" cy="613.0" r="9.9"/>
<circle cx="2819.7" cy="586.5" r="9.9"/>
<circle cx="2820.4" cy="537.1" r="9.9"/>
<circle cx="2822.3" cy="608.0" r="9.9"/>
<circle cx="2822.4" cy="645.2" r="9.9"/>
<circle cx="2825.0" cy="594.4" r="9.9"/>
<circle cx="2828.0" cy="629.4" r="9.9"/>
<circle cx="2830.8" cy="623.6" r="9.9"/>
<circle cx="2832.5" cy="542.4" r="9.9"/>
<circle cx="2832.5" cy="550.3" r="9.9"/>
<circle cx="2832.6" cy="608.8" r="9.9"/>
<circle cx="2833.0" cy="608.9" r="9.9"/>
<circle cx="2833.3" cy="644.2" r="9.9"/>
<circle cx="2833.5" cy="589.3" r="9.9"/>
<circle cx="2833.8" cy="591.8" r="9.9"/>
<circle cx="2834.1" cy="563.8" r="9.9"/>
<circle cx="2836.0" cy="558.2" r="9.9"/>
<circle cx="2836.4" cy="553.2" r="9.9"/>
<circle cx="2837.4" cy="629.7" r="9.9"/>
<circle cx="2837.8" cy="551.8" r="9.9"/>
<circle cx="2839.1" cy="558.0" r="9.9"/>
<circle cx="2839.4" cy="587.1" r="9.9"/>
<circle cx="2839.7" cy="549.0" r="9.9"/>
<circle cx="2840.5" cy="564.9" r="9.9"/>
<circle cx="2840.8" cy="599.3" r="9.9"/>
<circle cx="2841.1" cy="560.7" r="9.9"/>
<circle cx="2842.9" cy="588.5" r="9.9"/>
<circle cx="2843.5" cy="598.6" r="9.9"/>
<circle cx="2843.9" cy="587.4" r="9.9"/>
<circle cx="2844.3" cy="588.9" r="9.9"/>
<circle cx="2845.4" cy="614.9" r="9.9"/>
<circle cx="2845.9" cy="603.3" r="9.9"/>
<circle cx="2848.1" cy="559.1" r="9.9"/>
<circle cx="2849.6" cy="593.8" r="9.9"/>
<circle cx="2850.3" cy="561.3" r="9.9"/>
<circle cx="2850.4" cy="529.4" r="9.9"/>
<circle cx="2852.8" cy="595.6" r="9.9"/>
<circle cx="2854.2" cy="570.3" r="9.9"/>
<circle cx="2854.4" cy="589.6" r="9.9"/>
<circle cx="2857.4" cy="569.7" r="9.9"/>
<circle cx="2858.2" cy="594.1" r="9.9"/>
<circle cx="2858.7" cy="556.6" r="9.9"/>
<circle cx="2861.6" cy="589.8" r="9.9"/>
<circle cx="2862.0" cy="586.0" r="9.9"/>
<circle cx="2865.6" cy="540.1" r="9.9"/>
<circle cx="2869.0" cy="560.7" r="9.9"/>
<circle cx="2869.2" cy="591.7" r="9.9"/>
<circle cx="2871.8" cy="594.5" r="9.9"/>
<circle cx="2871.8" cy="605.2" r="9.9"/>
<circle cx="2878.0" cy="613.2" r="9.9"/>
<circle cx="2878.1" cy="584.4" r="9.9"/>
<circle cx="2878.3" cy="598.6" r="9.9"/>
<circle cx="2881.2" cy="549.4" r="9.9"/>
<circle cx="2882.5" cy="555.5" r="9.9"/>
<circle cx="2882.6" cy="624.1" r="9.9"/>
<circle cx="2884.9" cy="587.4" r="9.9"/>
<circle cx="2884.9" cy="585.8" r="9.9"/>
<circle cx="2885.7" cy="517.7" r="9.9"/>
<circle cx="2886.5" cy="496.5" r="9.9"/>
<circle cx="2887.0" cy="602.0" r="9.9"/>
<circle cx="2887.3" cy="543.5" r="9.9"/>
<circle cx="2887.5" cy="564.0" r="9.9"/>
<circle cx="2889.6" cy="576.3" r="9.9"/>
<circle cx="2890.0" cy="583.9" r="9.9"/>
<circle cx="2891.6" cy="589.7" r="9.9"/>
<circle cx="2892.1" cy="567.9" r="9.9"/>
<circle cx="2892.3" cy="625.3" r="9.9"/>
<circle cx="2892.6" cy="529.6" r="9.9"/>
<circle cx="2893.6" cy="550.2" r="9.9"/>
<circle cx="2894.4" cy="533.1" r="9.9"/>
<circle cx="2901.3" cy="538.7" r="9.9"/>
<circle cx="2904.0" cy="555.4" r="9.9"/>
<circle cx="2905.8" cy="541.7" r="9.9"/>
<circle cx="2906.2" cy="500.4" r="9.9"/>
<circle cx="2907.9" cy="597.5" r="9.9"/>
<circle cx="2908.2" cy="525.8" r="9.9"/>
<circle cx="2908.3" cy="547.1" r="9.9"/>
<circle cx="2908.6" cy="519.3" r="9.9"/>
<circle cx="2909.5" cy="576.1" r="9.9"/>
<circle cx="2909.9" cy="598.4" r="9.9"/>
<circle cx="2911.0" cy="507.7" r="9.9"/>
<circle cx="2913.1" cy="538.9" r="9.9"/>
<circle cx="2913.3" cy="503.4" r="9.9"/>
<circle cx="2913.3" cy="510.8" r="9.9"/>
<circle cx="2913.8" cy="560.9" r="9.9"/>
<circle cx="2914.1" cy="492.5" r="9.9"/>
<circle cx="2917.1" cy="569.8" r="9.9"/>
<circle cx="2917.3" cy="583.4" r="9.9"/>
<circle cx="2917.8" cy="580.2" r="9.9"/>
<circle cx="2918.4" cy="570.1" r="9.9"/>
<circle cx="2919.3" cy="489.8" r="9.9"/>
<circle cx="2920.2" cy="583.4" r="9.9"/>
<circle cx="2920.4" cy="606.7" r="9.9"/>
<circle cx="2920.5" cy="515.6" r="9.9"/>
<circle cx="2921.5" cy="596.0" r="9.9"/>
<circle cx="2924.0" cy="530.2" r="9.9"/>
<circle cx="2924.6" cy="557.6" r="9.9"/>
<circle cx="2925.7" cy="566.0" r="9.9"/>
<circle cx="2926.8" cy="504.5" r="9.9"/>
<circle cx="2927.4" cy="541.9" r="9.9"/>
<circle cx="2928.2" cy="521.9" r="9.9"/>
<circle cx="2929.2" cy="569.1" r="9.9"/>
<circle cx="2932.5" cy="566.5" r="9.9"/>
<circle cx="2932.7" cy="545.7" r="9.9"/>
<circle cx="2933.7" cy="558.4" r="9.9"/>
<circle cx="2934.7" cy="523.6" r="9.9"/>
<circle cx="2936.0" cy="528.9" r="9.9"/>
<circle cx="2936.3" cy="528.3" r="9.9"/>
<circle cx="2940.8" cy="496.5" r="9.9"/>
<circle cx="2941.7" cy="496.5" r="9.9"/>
<circle cx="2942.0" cy="570.9" r="9.9"/>
<circle cx="2942.2" cy="594.0" r="9.9"/>
<circle cx="2942.5" cy="598.9" r="9.9"/>
<circle cx="2944.6" cy="502.9" r="9.9"/>
<circle cx="2945.7" cy="552.1" r="9.9"/>
<circle cx="2946.8" cy="467.9" r="9.9"/>
<circle cx="2947.2" cy="576.0" r="9.9"/>
<circle cx="2948.4" cy="556.2" r="9.9"/>
<circle cx="2948.6" cy="505.9" r="9.9"/>
<circle cx="2948.8" cy="532.0" r="9.9"/>
<circle cx="2949.2" cy="524.3" r="9.9"/>
<circle cx="2949.3" cy="504.2" r="9.9"/>
<circle cx="2949.6" cy="579.9" r="9.9"/>
<circle cx="2952.5" cy="591.1" r="9.9"/>
<circle cx="2953.0" cy="544.0" r="9.9"/>
<circle cx="2953.7" cy="517.0" r="9.9"/>
<circle cx="2954.9" cy="515.6" r="9.9"/>
<circle cx="2956.2" cy="555.1" r="9.9"/>
<circle cx="2957.1" cy="527.6" r="9.9"/>
<circle cx="2957.1" cy="564.9" r="9.9"/>
<circle cx="2957.4" cy="531.1" r="9.9"/>
<circle cx="2958.1" cy="564.7" r="9.9"/>
<circle cx="2959.9" cy="465.6" r="9.9"/>
<circle cx="2960.3" cy="527.1" r="9.9"/>
<circle cx="2961.0" cy="477.3" r="9.9"/>
<circle cx="2962.8" cy="495.8" r="9.9"/>
<circle cx="2962.9" cy="552.7" r="9.9"/>
<circle cx="2963.7" cy="587.8" r="9.9"/>
<circle cx="2964.1" cy="538.4" r="9.9"/>
<circle cx="2966.3" cy="461.5" r="9.9"/>
<circle cx="2966.5" cy="551.6" r="9.9"/>
<circle cx="2969.3" cy="592.0" r="9.9"/>
<circle cx="2971.1" cy="467.7" r="9.9"/>
<circle cx="2976.7" cy="493.1" r="9.9"/>
<circle cx="2977.0" cy="517.8" r="9.9"/>
<circle cx="2977.8" cy="451.8" r="9.9"/>
<circle cx="2978.6" cy="556.1" r="9.9"/>
<circle cx="2979.6" cy="503.8" r="9.9"/>
<circle cx="2979.7" cy="495.0" r="9.9"/>
<circle cx="2981.3" cy="495.7" r="9.9"/>
<circle cx="2984.3" cy="540.4" r="9.9"/>
<circle cx="2984.9" cy="590.6" r="9.9"/>
<circle cx="2986.9" cy="454.2" r="9.9"/>
<circle cx="2987.0" cy="487.3" r="9.9"/>
<circle cx="2987.5" cy="481.0" r="9.9"/>
<circle cx="2987.7" cy="495.4" r="9.9"/>
<circle cx="2989.0" cy="444.0" r="9.9"/>
<circle cx="2990.1" cy="476.4" r="9.9"/>
<circle cx="2992.9" cy="555.7" r="9.9"/>
<circle cx="2993.0" cy="472.2" r="9.9"/>
<circle cx="2993.1" cy="445.4" r="9.9"/>
<circle cx="2993.7" cy="482.6" r="9.9"/>
<circle cx="2994.1" cy="526.9" r="9.9"/>
<circle cx="2995.0" cy="485.9" r="9.9"/>
<circle cx="2996.3" cy="524.9" r="9.9"/>
<circle cx="2996.9" cy="540.6" r="9.9"/>
<circle cx="2998.9" cy="522.3" r="9.9"/>
<circle cx="2999.0" cy="531.9" r="9.9"/>
<circle cx="3000.2" cy="503.5" r="9.9"/>
<circle cx="3001.3" cy="561.0" r="9.9"/>
<circle cx="3002.8" cy="571.6" r="9.9"/>
<circle cx="3007.6" cy="486.1" r="9.9"/>
<circle cx="3008.5" cy="484.6" r="9.9"/>
<circle cx="3009.1" cy="532.6" r="9.9"/>
<circle cx="3011.3" cy="503.0" r="9.9"/>
<circle cx="3011.6" cy="570.6" r="9.9"/>
<circle cx="3011.8" cy="571.2" r="9.9"/>
<circle cx="3013.6" cy="571.0" r="9.9"/>
<circle cx="3016.1" cy="548.6" r="9.9"/>
<circle cx="3016.4" cy="520.9" r="9.9"/>
<circle cx="3018.3" cy="458.6" r="9.9"/>
<circle cx="3019.4" cy="534.1" r="9.9"/>
<circle cx="3023.0" cy="517.1" r="9.9"/>
<circle cx="3023.1" cy="453.1" r="9.9"/>
<circle cx="3023.3" cy="447.9" r="9.9"/>
<circle cx="3023.8" cy="460.9" r="9.9"/>
<circle cx="3024.1" cy="496.9" r="9.9"/>
<circle cx="3026.5" cy="543.3" r="9.9"/>
<circle cx="3026.6" cy="455.9" r="9.9"/>
<circle cx="3028.0" cy="477.1" r="9.9"/>
<circle cx="3030.2" cy="553.3" r="9.9"/>
<circle cx="3030.8" cy="518.4" r="9.9"/>
<circle cx="3031.6" cy="452.9" r="9.9"/>
<circle cx="3034.1" cy="513.5" r="9.9"/>
<circle cx="3035.1" cy="474.1" r="9.9"/>
<circle cx="3036.3" cy="509.3" r="9.9"/>
<circle cx="3036.7" cy="519.2" r="9.9"/>
<circle cx="3037.1" cy="447.1" r="9.9"/>
<circle cx="3037.6" cy="449.9" r="9.9"/>
<circle cx="3037.6" cy="469.5" r="9.9"/>
<circle cx="3038.1" cy="471.5" r="9.9"/>
<circle cx="3038.1" cy="491.9" r="9.9"/>
<circle cx="3044.2" cy="521.7" r="9.9"/>
<circle cx="3045.0" cy="514.4" r="9.9"/>
<circle cx="3047.7" cy="552.8" r="9.9"/>
<circle cx="3047.8" cy="512.3" r="9.9"/>
<circle cx="3049.4" cy="513.3" r="9.9"/>
<circle cx="3049.8" cy="489.8" r="9.9"/>
<circle cx="3054.1" cy="516.3" r="9.9"/>
<circle cx="3054.9" cy="458.2" r="9.9"/>
<circle cx="3055.6" cy="520.8" r="9.9"/>
<circle cx="3057.6" cy="518.9" r="9.9"/>
<circle cx="3058.2" cy="467.0" r="9.9"/>
<circle cx="2064.2" cy="1023.8" r="9.9"/>
<circle cx="1947.7" cy="977.1" r="9.9"/>
<circle cx="1962.8" cy="971.1" r="9.9"/>
<circle cx="1983.9" cy="954.6" r="9.9"/>
<circle cx="1967.3" cy="948.5" r="9.9"/>
<circle cx="2023.0" cy="941.0" r="9.9"/>
<circle cx="2044.0" cy="918.4" r="9.9"/>
<circle cx="2101.3" cy="933.5" r="9.9"/>
<circle cx="2110.3" cy="924.5" r="9.9"/>
<circle cx="2104.3" cy="907.9" r="9.9"/>
<circle cx="2132.3" cy="898.9" r="9.9"/>
<circle cx="2188.5" cy="913.9" r="9.9"/>
<circle cx="2214.1" cy="921.5" r="9.9"/>
<circle cx="2211.1" cy="913.9" r="9.9"/>
<circle cx="2229.2" cy="907.3" r="9.9"/>
<circle cx="2168.4" cy="887.4" r="9.9"/>
<circle cx="2194.6" cy="885.3" r="9.9"/>
<circle cx="2185.5" cy="870.3" r="9.9"/>
<circle cx="2232.8" cy="875.7" r="9.9"/>
<circle cx="2206.6" cy="855.2" r="9.9"/>
<circle cx="2235.2" cy="847.7" r="9.9"/>
<circle cx="2261.7" cy="834.2" r="9.9"/>
<circle cx="2307.5" cy="861.3" r="9.9"/>
<circle cx="2330.9" cy="872.7" r="9.9"/>
<circle cx="2333.0" cy="828.1" r="9.9"/>
<circle cx="2309.0" cy="805.0" r="9.9"/>
<circle cx="2337.6" cy="796.5" r="9.9"/>
<circle cx="2372.2" cy="790.5" r="9.9"/>
<circle cx="2354.1" cy="804.1" r="9.9"/>
<circle cx="2436.9" cy="807.1" r="9.9"/>
<circle cx="2455.6" cy="817.6" r="9.9"/>
<circle cx="2461.0" cy="783.0" r="9.9"/>
<circle cx="2445.9" cy="766.4" r="9.9"/>
<circle cx="2488.1" cy="764.9" r="9.9"/>
<circle cx="2496.5" cy="753.8" r="9.9"/>
<circle cx="2032.0" cy="755.9" r="9.9"/>
<circle cx="2134.4" cy="715.3" r="9.9"/>
<circle cx="2105.2" cy="780.0" r="9.9"/>
<circle cx="2107.3" cy="727.3" r="9.9"/>
<circle cx="2086.2" cy="739.3" r="9.9"/>
<circle cx="2206.6" cy="698.1" r="9.9"/>
<circle cx="2197.6" cy="706.2" r="9.9"/>
<circle cx="2239.7" cy="684.3" r="9.9"/>
<circle cx="2272.8" cy="661.1" r="9.9"/>
<circle cx="2292.4" cy="680.6" r="9.9"/>
<circle cx="2342.1" cy="647.5" r="9.9"/>
<circle cx="2382.7" cy="658.1" r="9.9"/>
<circle cx="1956.8" cy="814.0" r="9.9"/>
<circle cx="1976.3" cy="814.0" r="9.9"/>
<circle cx="2001.9" cy="775.5" r="9.9"/>
<circle cx="2012.5" cy="769.4" r="9.9"/>
<circle cx="2051.6" cy="787.5" r="9.9"/>
<circle cx="2583.9" cy="521.5" r="9.9"/>
<circle cx="2753.9" cy="463.7" r="9.9"/>
<circle cx="2827.7" cy="477.8" r="9.9"/>
<circle cx="2890.9" cy="449.2" r="9.9"/>
<circle cx="2906.0" cy="449.2" r="9.9"/>
<circle cx="3015.8" cy="411.0" r="9.9"/>
<circle cx="3038.4" cy="408.6" r="9.9"/>
<circle cx="2806.6" cy="501.3" r="9.9"/>
<circle cx="2772.0" cy="512.5" r="9.9"/>
<circle cx="2693.7" cy="509.4" r="9.9"/>
<circle cx="2711.2" cy="512.5" r="9.9"/>
<circle cx="2710.3" cy="526.0" r="9.9"/>
<circle cx="2624.5" cy="550.1" r="9.9"/>
<circle cx="2657.6" cy="554.6" r="9.9"/>
<circle cx="2668.1" cy="553.1" r="9.9"/>
<circle cx="2693.7" cy="556.1" r="9.9"/>
<circle cx="2508.6" cy="582.3" r="9.9"/>
<circle cx="2496.6" cy="594.3" r="9.9"/>
<circle cx="2522.1" cy="611.2" r="9.9"/>
<circle cx="2505.6" cy="620.2" r="9.9"/>
<circle cx="2867.7" cy="489.9" r="9.9"/>
<circle cx="2963.1" cy="448.6" r="9.9"/>
<circle cx="2949.6" cy="457.7" r="9.9"/>
<circle cx="2988.7" cy="453.8" r="9.9"/>
<circle cx="2899.9" cy="681.0" r="9.9"/>
<circle cx="2792.5" cy="687.0" r="9.9"/>
<circle cx="2729.9" cy="704.5" r="9.9"/>
<circle cx="2744.3" cy="704.5" r="9.9"/>
<circle cx="2748.5" cy="721.7" r="9.9"/>
<circle cx="2671.1" cy="701.5" r="9.9"/>
<circle cx="2677.2" cy="721.7" r="9.9"/>
<circle cx="2682.3" cy="733.7" r="9.9"/>
<circle cx="2615.5" cy="714.1" r="9.9"/>
<circle cx="2595.9" cy="727.7" r="9.9"/>
<circle cx="2620.9" cy="727.7" r="9.9"/>
<circle cx="2598.0" cy="753.9" r="9.9"/>
<circle cx="2606.4" cy="773.7" r="9.9"/>
<circle cx="2557.7" cy="781.9" r="9.9"/>
<circle cx="2525.2" cy="781.9" r="9.9"/>
<circle cx="2966.2" cy="617.8" r="9.9"/>
<circle cx="2973.7" cy="605.8" r="9.9"/>
<circle cx="2996.3" cy="603.4" r="9.9"/>
<circle cx="2996.3" cy="581.7" r="9.9"/>
<circle cx="3018.8" cy="582.3" r="9.9"/>
<circle cx="3042.0" cy="582.3" r="9.9"/>
<circle cx="3027.9" cy="567.2" r="9.9"/>
<circle cx="3050.4" cy="562.1" r="9.9"/>
<circle cx="2978.2" cy="571.1" r="9.9"/>
<circle cx="2878.9" cy="635.9" r="9.9"/>
<circle cx="2859.3" cy="625.3" r="9.9"/>
<circle cx="2354.4" cy="612.0" r="9.9"/>
<circle cx="2415.3" cy="614.4" r="9.9"/>
<circle cx="2435.9" cy="628.8" r="9.9"/>
<circle cx="2261.8" cy="635.0" r="9.9"/>
<circle cx="2311.0" cy="637.8" r="9.9"/>
<circle cx="2342.6" cy="646.6" r="9.9"/>
<circle cx="2374.1" cy="640.6" r="9.9"/>
<circle cx="2389.4" cy="634.4" r="9.9"/>
<circle cx="2461.1" cy="638.2" r="9.9"/>
<circle cx="2449.9" cy="640.1" r="9.9"/>
<circle cx="2485.5" cy="643.8" r="9.9"/>
<circle cx="2273.4" cy="661.2" r="9.9"/>
<circle cx="2383.5" cy="659.7" r="9.9"/>
<circle cx="2418.1" cy="655.0" r="9.9"/>
<circle cx="2447.1" cy="655.0" r="9.9"/>
<circle cx="2293.6" cy="678.4" r="9.9"/>
<circle cx="2290.8" cy="687.8" r="9.9"/>
</g>
</g>
<g id="labels">
<g font-family="Liberation Sans, sans-serif" fill="#000" stroke="#000" stroke-width="0.4">
<text transform="translate(384.88,1097.10) scale(1.0895,1)" font-size="39.53" letter-spacing="2.161">−1.00</text>
<text transform="translate(526.88,1097.10) scale(1.0849,1)" font-size="39.53" letter-spacing="2.048">−0.75</text>
<text transform="translate(665.78,1097.10) scale(1.0886,1)" font-size="39.53" letter-spacing="2.138">−0.50</text>
<text transform="translate(808.93,1097.10) scale(1.0878,1)" font-size="39.53" letter-spacing="2.117">−0.25</text>
<text transform="translate(964.59,1097.10) scale(1.0427,1)" font-size="39.53" letter-spacing="1.051">0.00</text>
<text transform="translate(1106.89,1097.10) scale(1.0455,1)" font-size="39.53" letter-spacing="1.118">0.25</text>
<text transform="translate(1246.49,1097.10) scale(1.0446,1)" font-size="39.53" letter-spacing="1.099">0.50</text>
<text transform="translate(1388.19,1097.10) scale(1.0455,1)" font-size="39.53" letter-spacing="1.118">0.75</text>
<text transform="translate(1526.52,1097.10) scale(1.0552,1)" font-size="39.53" letter-spacing="1.332">1.00</text>
<text transform="translate(1872.88,1097.10) scale(1.0871,1)" font-size="39.53" letter-spacing="2.103">−1.00</text>
<text transform="translate(2013.28,1097.10) scale(1.0854,1)" font-size="39.53" letter-spacing="2.059">−0.75</text>
<text transform="translate(2154.88,1097.10) scale(1.0871,1)" font-size="39.53" letter-spacing="2.103">−0.50</text>
<text transform="translate(2294.03,1097.10) scale(1.0878,1)" font-size="39.53" letter-spacing="2.117">−0.25</text>
<text transform="translate(2453.29,1097.10) scale(1.0446,1)" font-size="39.53" letter-spacing="1.099">0.00</text>
<text transform="translate(2593.09,1097.10) scale(1.0455,1)" font-size="39.53" letter-spacing="1.118">0.25</text>
<text transform="translate(2734.89,1097.10) scale(1.0446,1)" font-size="39.53" letter-spacing="1.099">0.50</text>
<text transform="translate(2876.27,1097.10) scale(1.0545,1)" font-size="39.53" letter-spacing="1.340">0.75</text>
<text transform="translate(3015.63,1097.10) scale(1.0519,1)" font-size="39.53" letter-spacing="1.252">1.00</text>
<text transform="translate(353.11,421.30) scale(0.9884,1)" font-size="40.12">5</text>
<text transform="translate(353.84,583.60) scale(0.9300,1)" font-size="40.12">4</text>
<text transform="translate(353.19,749.20) scale(0.9884,1)" font-size="40.12">3</text>
<text transform="translate(352.62,911.50) scale(1.0287,1)" font-size="40.12">2</text>
<text transform="translate(1842.02,438.40) scale(0.9832,1)" font-size="40.12">5</text>
<text transform="translate(1842.75,572.20) scale(0.9251,1)" font-size="40.12">4</text>
<text transform="translate(1842.10,708.20) scale(0.9832,1)" font-size="40.12">3</text>
<text transform="translate(1841.54,842.30) scale(1.0232,1)" font-size="40.12">2</text>
<text transform="translate(1840.30,975.10) scale(1.0812,1)" font-size="40.12">1</text>
<text transform="translate(1543.50,334.10) scale(1.0063,1)" font-size="53.05" letter-spacing="0.163">Training data</text>
<text transform="translate(931.15,360.10) scale(1.1388,1)" font-size="39.81" font-style="italic">n</text>
<text transform="translate(964.17,357.56) scale(1.3996,0.84)" font-size="40.0" stroke="#000" stroke-width="0.5">=</text>
<text transform="translate(1007.74,360.10) scale(1.0431,1)" font-size="39.83" letter-spacing="1.332">100</text>
<text transform="translate(2405.15,360.10) scale(1.1337,1)" font-size="39.81" font-style="italic">n</text>
<text transform="translate(2438.04,357.56) scale(1.4151,0.84)" font-size="40.0" stroke="#000" stroke-width="0.5">=</text>
<text transform="translate(2481.71,360.10) scale(1.0577,1)" font-size="39.53" letter-spacing="1.605">1000</text>
<text transform="translate(994.36,1158.20) scale(0.9414,1)" font-size="52.05" font-style="italic">x</text>
<text transform="translate(2479.26,1158.20) scale(0.9414,1)" font-size="52.05" font-style="italic">x</text>
<text transform="translate(319.16,734.44) rotate(-90) scale(0.9392,1)" font-size="53.68" font-style="italic">y</text>
<text transform="translate(1807.59,734.25) rotate(-90) scale(0.9555,1)" font-size="52.59" font-style="italic">y</text>
</g>
</g>
</g>
<g id="logo" role="img" aria-label="SCALER Topics"><title>SCALER Topics</title>
<g font-family="Liberation Sans, sans-serif" fill="#0e1a2e" stroke="#0e1a2e" stroke-width="1.7" stroke-linejoin="miter">
<text transform="translate(1569.44,1420.30) scale(0.8844,1)" font-size="61.34" font-weight="bold">S</text>
<text transform="translate(1614.29,1420.30) scale(0.8403,1)" font-size="61.34" font-weight="bold">C</text>
<text transform="translate(1657.47,1420.30) scale(0.9331,1)" font-size="61.34" font-weight="bold">A</text>
<text transform="translate(1707.58,1420.30) scale(0.9054,1)" font-size="61.34" font-weight="bold">L</text>
<text transform="translate(1752.81,1420.30) scale(0.8253,1)" font-size="61.34" font-weight="bold">E</text>
<text transform="translate(1796.19,1420.30) scale(0.8810,1)" font-size="61.34" font-weight="bold">R</text>
</g>
<g transform="translate(1550,1420) scale(0.14684)" fill="none" stroke="#ea1f78" stroke-linecap="round" stroke-linejoin="round">
<path d="M86.0,242.0 C91.7,245.3 106.0,256.8 120.0,262.0 C134.0,267.2 151.7,272.3 170.0,273.0 C188.3,273.7 208.3,271.5 230.0,266.0 C251.7,260.5 271.7,252.3 300.0,240.0 C328.3,227.7 371.7,207.7 400.0,192.0 C428.3,176.3 451.3,161.0 470.0,146.0 C488.7,131.0 505.0,109.3 512.0,102.0" stroke-width="60"/>
<path d="M500.0,150.0 C508.3,145.0 533.3,128.3 550.0,120.0 C566.7,111.7 583.3,105.3 600.0,100.0 C616.7,94.7 633.3,90.7 650.0,88.0 C666.7,85.3 685.3,83.3 700.0,84.0 C714.7,84.7 727.7,87.7 738.0,92.0 C748.3,96.3 756.3,103.7 762.0,110.0 C767.7,116.3 770.7,124.7 772.0,130.0 C773.3,135.3 770.3,140.0 770.0,142.0" stroke-width="58"/>
<path d="M506.0,118.0 C500.0,130.0 481.7,166.7 470.0,190.0 C458.3,213.3 447.7,233.8 436.0,258.0 C424.3,282.2 410.7,308.0 400.0,335.0 C389.3,362.0 380.0,394.2 372.0,420.0 C364.0,445.8 358.2,460.0 352.0,490.0 C345.8,520.0 340.7,565.0 335.0,600.0 C329.3,635.0 323.0,668.3 318.0,700.0 C313.0,731.7 308.7,760.0 305.0,790.0 C301.3,820.0 297.5,855.8 296.0,880.0 C294.5,904.2 294.5,919.2 296.0,935.0 C297.5,950.8 303.5,968.3 305.0,975.0" stroke-width="68"/>
<path d="M670.0,540.0 C658.3,541.0 637.3,542.7 620.0,556.0 C602.7,569.3 581.7,596.0 566.0,620.0 C550.3,644.0 534.8,674.0 526.0,700.0 C517.2,726.0 512.3,753.3 513.0,776.0 C513.7,798.7 520.5,822.3 530.0,836.0 C539.5,849.7 555.0,858.0 570.0,858.0 C585.0,858.0 603.3,850.7 620.0,836.0 C636.7,821.3 655.7,794.3 670.0,770.0 C684.3,745.7 698.0,713.3 706.0,690.0 C714.0,666.7 717.3,648.3 718.0,630.0 C718.7,611.7 714.7,593.3 710.0,580.0 C705.3,566.7 696.7,556.7 690.0,550.0 C683.3,543.3 681.7,539.0 670.0,540.0Z" stroke-width="56"/>
<path d="M660.0,550.0 C661.3,557.0 664.0,580.7 668.0,592.0 C672.0,603.3 681.3,613.7 684.0,618.0" stroke-width="38"/>
<path d="M722.0,590.0 C729.3,593.8 746.3,613.7 766.0,613.0 C785.7,612.3 819.3,598.2 840.0,586.0 C860.7,573.8 873.7,557.2 890.0,540.0 C906.3,522.8 930.0,492.5 938.0,483.0" stroke-width="58"/>
<path d="M938.0,483.0 C934.3,496.8 925.7,531.5 916.0,566.0 C906.3,600.5 891.7,644.3 880.0,690.0 C868.3,735.7 855.7,785.0 846.0,840.0 C836.3,895.0 826.3,971.7 822.0,1020.0 C817.7,1068.3 817.8,1095.8 820.0,1130.0 C822.2,1164.2 832.5,1209.2 835.0,1225.0" stroke-width="67"/>
<path d="M930.0,590.0 C940.0,577.7 967.3,536.7 990.0,516.0 C1012.7,495.3 1044.3,475.3 1066.0,466.0 C1087.7,456.7 1106.7,453.3 1120.0,460.0 C1133.3,466.7 1143.3,484.3 1146.0,506.0 C1148.7,527.7 1145.3,559.3 1136.0,590.0 C1126.7,620.7 1107.7,662.3 1090.0,690.0 C1072.3,717.7 1050.7,740.0 1030.0,756.0 C1009.3,772.0 986.7,781.7 966.0,786.0 C945.3,790.3 916.0,782.7 906.0,782.0" stroke-width="62"/>
<path d="M1298.0,426.0 C1293.8,440.2 1281.8,480.2 1273.0,511.0 C1264.2,541.8 1250.8,583.5 1245.0,611.0 C1239.2,638.5 1236.7,657.7 1238.0,676.0 C1239.3,694.3 1250.5,713.5 1253.0,721.0" stroke-width="70"/>
<path d="M1253.0,721.0 C1262.2,719.3 1288.8,724.3 1308.0,711.0 C1327.2,697.7 1348.8,666.8 1368.0,641.0 C1387.2,615.2 1404.7,583.5 1423.0,556.0 C1441.3,528.5 1458.8,500.2 1478.0,476.0 C1497.2,451.8 1518.8,428.5 1538.0,411.0 C1557.2,393.5 1576.3,379.3 1593.0,371.0 C1609.7,362.7 1625.2,358.5 1638.0,361.0 C1650.8,363.5 1666.7,373.2 1670.0,386.0 C1673.3,398.8 1660.0,429.3 1658.0,438.0" stroke-width="54"/>
<path d="M1593.0,371.0 C1582.2,385.2 1546.3,426.8 1528.0,456.0 C1509.7,485.2 1494.7,517.7 1483.0,546.0 C1471.3,574.3 1460.5,604.3 1458.0,626.0 C1455.5,647.7 1459.7,666.0 1468.0,676.0 C1476.3,686.0 1491.3,688.5 1508.0,686.0 C1524.7,683.5 1547.2,673.5 1568.0,661.0 C1588.8,648.5 1611.3,631.0 1633.0,611.0 C1654.7,591.0 1678.8,564.3 1698.0,541.0 C1717.2,517.7 1729.7,496.8 1748.0,471.0 C1766.3,445.2 1788.0,411.0 1808.0,386.0 C1828.0,361.0 1848.0,336.0 1868.0,321.0 C1888.0,306.0 1913.0,294.3 1928.0,296.0 C1943.0,297.7 1954.3,317.7 1958.0,331.0 C1961.7,344.3 1951.3,368.5 1950.0,376.0" stroke-width="57"/>
<path d="M1800.0,430.0 C1809.7,435.2 1840.0,450.0 1858.0,461.0 C1876.0,472.0 1896.0,481.8 1908.0,496.0 C1920.0,510.2 1928.3,529.3 1930.0,546.0 C1931.7,562.7 1926.7,582.2 1918.0,596.0 C1909.3,609.8 1893.0,623.2 1878.0,629.0 C1863.0,634.8 1843.0,635.7 1828.0,631.0 C1813.0,626.3 1794.7,606.0 1788.0,601.0" stroke-width="62"/>
<circle cx="86" cy="242" r="33" fill="#ea1f78" stroke="none"/>
<circle cx="770" cy="140" r="35" fill="#ea1f78" stroke="none"/>
<circle cx="1658" cy="438" r="36" fill="#ea1f78" stroke="none"/>
<circle cx="1950" cy="376" r="35" fill="#ea1f78" stroke="none"/>
<circle cx="1788" cy="603" r="35" fill="#ea1f78" stroke="none"/>
<ellipse cx="1394" cy="163" rx="39" ry="48" fill="#ea1f78" stroke="none" transform="rotate(14 1394 163)"/>
</g>
</g>
</svg></body></html>
